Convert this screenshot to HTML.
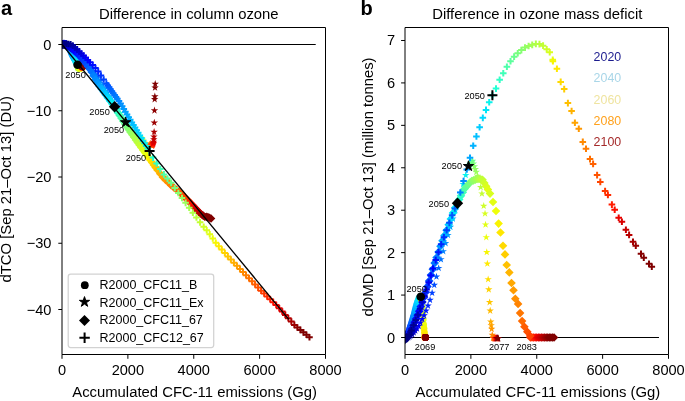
<!DOCTYPE html>
<html><head><meta charset="utf-8"><style>html,body{margin:0;padding:0;background:#fff;}svg{display:block;will-change:transform;}</style></head><body>
<svg width="685" height="401" viewBox="0 0 685 401" font-family="Liberation Sans, sans-serif">
<rect width="685" height="401" fill="#fff"/>
<text x="1" y="15.2" font-size="20" font-weight="bold">a</text>
<text x="360.6" y="15.2" font-size="20" font-weight="bold">b</text>
<text x="188.8" y="19.2" font-size="14.85" text-anchor="middle">Difference in column ozone</text>
<text x="537.3" y="19.2" font-size="14.85" text-anchor="middle">Difference in ozone mass deficit</text>
<g clip-path="url(#ca)">
<line x1="62.00" y1="44.5" x2="315.72" y2="44.5" stroke="#000" stroke-width="1.1"/>
<circle cx="62.00" cy="44.50" r="3.4" fill="#000080"/>
<circle cx="62.03" cy="44.48" r="3.4" fill="#000080"/>
<circle cx="62.10" cy="44.42" r="3.4" fill="#000080"/>
<circle cx="62.21" cy="44.33" r="3.4" fill="#000080"/>
<circle cx="62.35" cy="44.22" r="3.4" fill="#00008e"/>
<circle cx="62.52" cy="44.08" r="3.4" fill="#00009c"/>
<circle cx="62.73" cy="43.92" r="3.4" fill="#0000ab"/>
<circle cx="62.96" cy="43.73" r="3.4" fill="#0000b9"/>
<circle cx="63.22" cy="43.52" r="3.4" fill="#0000c8"/>
<circle cx="63.51" cy="43.29" r="3.4" fill="#0000d6"/>
<circle cx="63.82" cy="43.26" r="3.4" fill="#0000e5"/>
<circle cx="64.17" cy="43.39" r="3.4" fill="#0000f3"/>
<circle cx="64.53" cy="43.54" r="3.4" fill="#0000ff"/>
<circle cx="64.93" cy="43.70" r="3.4" fill="#0000ff"/>
<circle cx="65.34" cy="43.87" r="3.4" fill="#000dff"/>
<circle cx="65.78" cy="44.05" r="3.4" fill="#0019ff"/>
<circle cx="66.25" cy="44.24" r="3.4" fill="#0026ff"/>
<circle cx="66.74" cy="44.44" r="3.4" fill="#0033ff"/>
<circle cx="67.25" cy="45.03" r="3.4" fill="#0040ff"/>
<circle cx="67.79" cy="45.90" r="3.4" fill="#004dff"/>
<circle cx="68.35" cy="46.80" r="3.4" fill="#0059ff"/>
<circle cx="68.94" cy="47.75" r="3.4" fill="#0066ff"/>
<circle cx="69.54" cy="48.72" r="3.4" fill="#0073ff"/>
<circle cx="70.17" cy="49.74" r="3.4" fill="#0080ff"/>
<circle cx="70.82" cy="51.38" r="3.4" fill="#008cff"/>
<circle cx="71.49" cy="53.14" r="3.4" fill="#0099ff"/>
<circle cx="72.19" cy="54.72" r="3.4" fill="#00a6ff"/>
<circle cx="72.90" cy="56.04" r="3.4" fill="#00b2ff"/>
<circle cx="73.64" cy="57.39" r="3.4" fill="#00bfff"/>
<circle cx="74.40" cy="58.79" r="3.4" fill="#00ccff"/>
<circle cx="75.18" cy="60.34" r="3.4" fill="#00d9ff"/>
<circle cx="75.98" cy="61.96" r="3.4" fill="#00e5f7"/>
<circle cx="76.80" cy="63.62" r="3.4" fill="#0af2ec"/>
<circle cx="77.65" cy="65.32" r="3.4" fill="#15ffe2"/>
<circle cx="77.71" cy="65.00" r="3.4" fill="#23ffd4"/>
<circle cx="77.77" cy="65.30" r="3.4" fill="#31ffc6"/>
<circle cx="77.83" cy="65.60" r="3.4" fill="#3fffb8"/>
<circle cx="77.89" cy="65.90" r="3.4" fill="#4dffaa"/>
<circle cx="77.95" cy="66.20" r="3.4" fill="#5bff9c"/>
<circle cx="78.02" cy="66.50" r="3.4" fill="#69ff8d"/>
<circle cx="78.08" cy="66.79" r="3.4" fill="#78ff7f"/>
<circle cx="78.14" cy="67.09" r="3.4" fill="#86ff71"/>
<circle cx="78.22" cy="67.39" r="3.4" fill="#90ff67"/>
<circle cx="78.30" cy="67.69" r="3.4" fill="#9aff5d"/>
<circle cx="78.39" cy="67.80" r="3.4" fill="#a5ff52"/>
<circle cx="78.47" cy="67.91" r="3.4" fill="#afff48"/>
<circle cx="78.55" cy="68.02" r="3.4" fill="#b9ff3e"/>
<circle cx="78.63" cy="68.13" r="3.4" fill="#c3ff33"/>
<circle cx="79.21" cy="68.24" r="3.4" fill="#ceff29"/>
<circle cx="79.79" cy="68.35" r="3.4" fill="#d8ff1f"/>
<circle cx="80.20" cy="68.22" r="3.4" fill="#e2ff15"/>
<circle cx="80.61" cy="68.09" r="3.4" fill="#ecff0a"/>
<circle cx="81.02" cy="67.95" r="3.4" fill="#f7f600"/>
<circle cx="81.43" cy="67.82" r="3.4" fill="#ffea00"/>
<circle cx="81.76" cy="67.69" r="3.4" fill="#ffde00"/>
<circle cx="82.09" cy="67.61" r="3.4" fill="#ffd200"/>
<circle cx="82.11" cy="67.54" r="3.4" fill="#ffc600"/>
<circle cx="82.13" cy="67.47" r="3.4" fill="#ffbb00"/>
<circle cx="82.14" cy="67.39" r="3.4" fill="#ffaf00"/>
<circle cx="82.16" cy="67.32" r="3.4" fill="#ffa300"/>
<circle cx="82.18" cy="67.25" r="3.4" fill="#ff9700"/>
<circle cx="82.20" cy="67.17" r="3.4" fill="#ff8b00"/>
<circle cx="82.22" cy="67.10" r="3.4" fill="#ff8000"/>
<circle cx="82.23" cy="67.03" r="3.4" fill="#ff7400"/>
<circle cx="82.25" cy="66.99" r="3.4" fill="#ff6800"/>
<circle cx="82.27" cy="66.96" r="3.4" fill="#ff5c00"/>
<circle cx="82.29" cy="66.93" r="3.4" fill="#ff5000"/>
<circle cx="82.30" cy="66.89" r="3.4" fill="#ff4400"/>
<circle cx="82.32" cy="66.86" r="3.4" fill="#ff3900"/>
<circle cx="82.34" cy="66.83" r="3.4" fill="#ff2d00"/>
<circle cx="82.36" cy="66.79" r="3.4" fill="#ff2100"/>
<circle cx="82.37" cy="66.76" r="3.4" fill="#ff1500"/>
<circle cx="82.39" cy="66.73" r="3.4" fill="#f30900"/>
<circle cx="82.41" cy="66.69" r="3.4" fill="#e50000"/>
<circle cx="82.43" cy="66.66" r="3.4" fill="#d60000"/>
<circle cx="82.44" cy="66.63" r="3.4" fill="#c80000"/>
<circle cx="82.46" cy="66.59" r="3.4" fill="#b90000"/>
<circle cx="82.48" cy="66.56" r="3.4" fill="#ab0000"/>
<circle cx="82.50" cy="66.53" r="3.4" fill="#9c0000"/>
<circle cx="82.52" cy="66.50" r="3.4" fill="#8e0000"/>
<circle cx="82.53" cy="66.46" r="3.4" fill="#800000"/>
<circle cx="82.55" cy="66.43" r="3.4" fill="#800000"/>
<circle cx="82.57" cy="66.40" r="3.4" fill="#800000"/>
<circle cx="82.59" cy="66.36" r="3.4" fill="#800000"/>
<path d="M62.00,40.60 L61.12,43.29 L58.29,43.29 L60.58,44.96 L59.71,47.66 L62.00,45.99 L64.29,47.66 L63.42,44.96 L65.71,43.29 L62.88,43.29Z" fill="#000080"/>
<path d="M62.47,40.67 L61.60,43.36 L58.77,43.36 L61.06,45.03 L60.18,47.72 L62.47,46.06 L64.77,47.72 L63.89,45.03 L66.18,43.36 L63.35,43.36Z" fill="#000080"/>
<path d="M63.25,40.77 L62.38,43.47 L59.54,43.47 L61.84,45.13 L60.96,47.83 L63.25,46.16 L65.54,47.83 L64.67,45.13 L66.96,43.47 L64.13,43.47Z" fill="#000080"/>
<path d="M64.21,40.91 L63.33,43.60 L60.50,43.60 L62.79,45.27 L61.92,47.96 L64.21,46.30 L66.50,47.96 L65.63,45.27 L67.92,43.60 L65.08,43.60Z" fill="#000080"/>
<path d="M65.30,41.06 L64.43,43.76 L61.60,43.76 L63.89,45.42 L63.01,48.12 L65.30,46.45 L67.60,48.12 L66.72,45.42 L69.01,43.76 L66.18,43.76Z" fill="#00008e"/>
<path d="M66.52,41.23 L65.64,43.92 L62.81,43.92 L65.10,45.59 L64.22,48.28 L66.52,46.62 L68.81,48.28 L67.93,45.59 L70.23,43.92 L67.39,43.92Z" fill="#00009c"/>
<path d="M67.83,41.77 L66.95,44.46 L64.12,44.46 L66.41,46.13 L65.54,48.82 L67.83,47.16 L70.12,48.82 L69.25,46.13 L71.54,44.46 L68.70,44.46Z" fill="#0000ab"/>
<path d="M69.23,42.53 L68.36,45.22 L65.52,45.22 L67.82,46.89 L66.94,49.59 L69.23,47.92 L71.53,49.59 L70.65,46.89 L72.94,45.22 L70.11,45.22Z" fill="#0000b9"/>
<path d="M70.72,43.34 L69.84,46.03 L67.01,46.03 L69.30,47.70 L68.43,50.39 L70.72,48.73 L73.01,50.39 L72.14,47.70 L74.43,46.03 L71.60,46.03Z" fill="#0000c8"/>
<path d="M72.28,44.35 L71.41,47.05 L68.57,47.05 L70.87,48.71 L69.99,51.41 L72.28,49.74 L74.58,51.41 L73.70,48.71 L75.99,47.05 L73.16,47.05Z" fill="#0000d6"/>
<path d="M73.92,45.92 L73.04,48.62 L70.21,48.62 L72.50,50.28 L71.63,52.98 L73.92,51.31 L76.21,52.98 L75.33,50.28 L77.63,48.62 L74.79,48.62Z" fill="#0000e5"/>
<path d="M75.62,47.55 L74.74,50.25 L71.91,50.25 L74.20,51.92 L73.33,54.61 L75.62,52.94 L77.91,54.61 L77.04,51.92 L79.33,50.25 L76.49,50.25Z" fill="#0000f3"/>
<path d="M77.38,49.25 L76.51,51.94 L73.67,51.94 L75.97,53.61 L75.09,56.31 L77.38,54.64 L79.68,56.31 L78.80,53.61 L81.09,51.94 L78.26,51.94Z" fill="#0000ff"/>
<path d="M79.21,51.00 L78.33,53.70 L75.50,53.70 L77.79,55.36 L76.92,58.06 L79.21,56.39 L81.50,58.06 L80.62,55.36 L82.92,53.70 L80.08,53.70Z" fill="#0000ff"/>
<path d="M81.09,52.81 L80.21,55.50 L77.38,55.50 L79.67,57.17 L78.80,59.86 L81.09,58.20 L83.38,59.86 L82.51,57.17 L84.80,55.50 L81.96,55.50Z" fill="#000dff"/>
<path d="M83.02,54.67 L82.15,57.36 L79.32,57.36 L81.61,59.03 L80.73,61.72 L83.02,60.06 L85.32,61.72 L84.44,59.03 L86.73,57.36 L83.90,57.36Z" fill="#0019ff"/>
<path d="M85.01,56.58 L84.14,59.27 L81.30,59.27 L83.60,60.94 L82.72,63.63 L85.01,61.97 L87.31,63.63 L86.43,60.94 L88.72,59.27 L85.89,59.27Z" fill="#0026ff"/>
<path d="M87.05,59.24 L86.18,61.93 L83.34,61.93 L85.63,63.60 L84.76,66.29 L87.05,64.63 L89.34,66.29 L88.47,63.60 L90.76,61.93 L87.93,61.93Z" fill="#0033ff"/>
<path d="M89.14,61.98 L88.26,64.67 L85.43,64.67 L87.72,66.34 L86.85,69.03 L89.14,67.37 L91.43,69.03 L90.56,66.34 L92.85,64.67 L90.01,64.67Z" fill="#0040ff"/>
<path d="M91.27,64.78 L90.40,67.47 L87.56,67.47 L89.86,69.14 L88.98,71.84 L91.27,70.17 L93.56,71.84 L92.69,69.14 L94.98,67.47 L92.15,67.47Z" fill="#004dff"/>
<path d="M93.45,67.64 L92.58,70.34 L89.74,70.34 L92.03,72.00 L91.16,74.70 L93.45,73.03 L95.74,74.70 L94.87,72.00 L97.16,70.34 L94.33,70.34Z" fill="#0059ff"/>
<path d="M95.68,70.56 L94.80,73.25 L91.97,73.25 L94.26,74.92 L93.38,77.61 L95.68,75.95 L97.97,77.61 L97.09,74.92 L99.38,73.25 L96.55,73.25Z" fill="#0066ff"/>
<path d="M97.94,73.53 L97.07,76.23 L94.23,76.23 L96.52,77.89 L95.65,80.59 L97.94,78.92 L100.23,80.59 L99.36,77.89 L101.65,76.23 L98.82,76.23Z" fill="#0073ff"/>
<path d="M100.25,77.17 L99.37,79.87 L96.54,79.87 L98.83,81.53 L97.96,84.23 L100.25,82.56 L102.54,84.23 L101.67,81.53 L103.96,79.87 L101.12,79.87Z" fill="#0080ff"/>
<path d="M102.60,80.96 L101.72,83.66 L98.89,83.66 L101.18,85.32 L100.30,88.02 L102.60,86.35 L104.89,88.02 L104.01,85.32 L106.31,83.66 L103.47,83.66Z" fill="#008cff"/>
<path d="M104.99,84.82 L104.11,87.51 L101.28,87.51 L103.57,89.18 L102.69,91.87 L104.99,90.21 L107.28,91.87 L106.40,89.18 L108.69,87.51 L105.86,87.51Z" fill="#0099ff"/>
<path d="M107.41,88.73 L106.54,91.43 L103.70,91.43 L105.99,93.09 L105.12,95.79 L107.41,94.12 L109.70,95.79 L108.83,93.09 L111.12,91.43 L108.29,91.43Z" fill="#00a6ff"/>
<path d="M109.88,92.71 L109.00,95.41 L106.17,95.41 L108.46,97.07 L107.58,99.77 L109.88,98.10 L112.17,99.77 L111.29,97.07 L113.58,95.41 L110.75,95.41Z" fill="#00b2ff"/>
<path d="M112.38,96.79 L111.50,99.49 L108.67,99.49 L110.96,101.15 L110.08,103.85 L112.38,102.18 L114.67,103.85 L113.79,101.15 L116.09,99.49 L113.25,99.49Z" fill="#00bfff"/>
<path d="M114.91,101.01 L114.04,103.70 L111.20,103.70 L113.50,105.37 L112.62,108.06 L114.91,106.40 L117.20,108.06 L116.33,105.37 L118.62,103.70 L115.79,103.70Z" fill="#00ccff"/>
<path d="M117.48,105.28 L116.61,107.98 L113.78,107.98 L116.07,109.64 L115.19,112.34 L117.48,110.67 L119.78,112.34 L118.90,109.64 L121.19,107.98 L118.36,107.98Z" fill="#00d9ff"/>
<path d="M120.09,109.61 L119.22,112.31 L116.38,112.31 L118.67,113.97 L117.80,116.67 L120.09,115.00 L122.38,116.67 L121.51,113.97 L123.80,112.31 L120.97,112.31Z" fill="#00e5f7"/>
<path d="M122.73,114.00 L121.86,116.70 L119.02,116.70 L121.31,118.36 L120.44,121.06 L122.73,119.39 L125.02,121.06 L124.15,118.36 L126.44,116.70 L123.61,116.70Z" fill="#0af2ec"/>
<path d="M125.40,118.44 L124.53,121.14 L121.70,121.14 L123.99,122.80 L123.11,125.50 L125.40,123.83 L127.70,125.50 L126.82,122.80 L129.11,121.14 L126.28,121.14Z" fill="#15ffe2"/>
<path d="M126.09,119.16 L125.22,121.86 L122.38,121.86 L124.67,123.52 L123.80,126.22 L126.09,124.55 L128.38,126.22 L127.51,123.52 L129.80,121.86 L126.97,121.86Z" fill="#23ffd4"/>
<path d="M126.78,120.21 L125.90,122.91 L123.07,122.91 L125.36,124.57 L124.48,127.27 L126.78,125.60 L129.07,127.27 L128.19,124.57 L130.49,122.91 L127.65,122.91Z" fill="#31ffc6"/>
<path d="M127.46,121.26 L126.59,123.95 L123.75,123.95 L126.05,125.62 L125.17,128.31 L127.46,126.65 L129.76,128.31 L128.88,125.62 L131.17,123.95 L128.34,123.95Z" fill="#3fffb8"/>
<path d="M128.15,122.31 L127.27,125.00 L124.44,125.00 L126.73,126.67 L125.86,129.36 L128.15,127.70 L130.44,129.36 L129.57,126.67 L131.86,125.00 L129.03,125.00Z" fill="#4dffaa"/>
<path d="M128.84,123.36 L127.96,126.05 L125.13,126.05 L127.42,127.72 L126.54,130.41 L128.84,128.75 L131.13,130.41 L130.25,127.72 L132.54,126.05 L129.71,126.05Z" fill="#5bff9c"/>
<path d="M129.52,124.41 L128.65,127.10 L125.81,127.10 L128.11,128.77 L127.23,131.46 L129.52,129.80 L131.81,131.46 L130.94,128.77 L133.23,127.10 L130.40,127.10Z" fill="#69ff8d"/>
<path d="M130.46,125.46 L129.58,128.15 L126.75,128.15 L129.04,129.82 L128.17,132.51 L130.46,130.84 L132.75,132.51 L131.88,129.82 L134.17,128.15 L131.34,128.15Z" fill="#78ff7f"/>
<path d="M131.40,126.50 L130.52,129.20 L127.69,129.20 L129.98,130.86 L129.11,133.56 L131.40,131.89 L133.69,133.56 L132.82,130.86 L135.11,129.20 L132.27,129.20Z" fill="#86ff71"/>
<path d="M132.34,127.55 L131.46,130.25 L128.63,130.25 L130.92,131.91 L130.05,134.61 L132.34,132.94 L134.63,134.61 L133.75,131.91 L136.05,130.25 L133.21,130.25Z" fill="#90ff67"/>
<path d="M133.28,128.60 L132.40,131.30 L129.57,131.30 L131.86,132.96 L130.98,135.66 L133.28,133.99 L135.57,135.66 L134.69,132.96 L136.99,131.30 L134.15,131.30Z" fill="#9aff5d"/>
<path d="M134.53,129.65 L133.65,132.35 L130.82,132.35 L133.11,134.01 L132.24,136.71 L134.53,135.04 L136.82,136.71 L135.95,134.01 L138.24,132.35 L135.40,132.35Z" fill="#a5ff52"/>
<path d="M135.78,130.70 L134.90,133.39 L132.07,133.39 L134.36,135.06 L133.49,137.76 L135.78,136.09 L138.07,137.76 L137.20,135.06 L139.49,133.39 L136.66,133.39Z" fill="#afff48"/>
<path d="M137.69,131.76 L136.81,134.45 L133.98,134.45 L136.27,136.12 L135.40,138.82 L137.69,137.15 L139.98,138.82 L139.11,136.12 L141.40,134.45 L138.57,134.45Z" fill="#b9ff3e"/>
<path d="M138.91,132.82 L138.03,135.51 L135.20,135.51 L137.49,137.18 L136.62,139.88 L138.91,138.21 L141.20,139.88 L140.33,137.18 L142.62,135.51 L139.78,135.51Z" fill="#c3ff33"/>
<path d="M140.72,133.88 L139.85,136.57 L137.01,136.57 L139.30,138.24 L138.43,140.94 L140.72,139.27 L143.01,140.94 L142.14,138.24 L144.43,136.57 L141.60,136.57Z" fill="#ceff29"/>
<path d="M142.04,134.94 L141.16,137.63 L138.33,137.63 L140.62,139.30 L139.75,142.00 L142.04,140.33 L144.33,142.00 L143.45,139.30 L145.75,137.63 L142.91,137.63Z" fill="#d8ff1f"/>
<path d="M142.57,136.00 L141.69,138.69 L138.86,138.69 L141.15,140.36 L140.27,143.06 L142.57,141.39 L144.86,143.06 L143.98,140.36 L146.27,138.69 L143.44,138.69Z" fill="#e2ff15"/>
<path d="M143.26,137.06 L142.38,139.75 L139.55,139.75 L141.84,141.42 L140.96,144.12 L143.26,142.45 L145.55,144.12 L144.67,141.42 L146.97,139.75 L144.13,139.75Z" fill="#ecff0a"/>
<path d="M143.75,138.12 L142.88,140.81 L140.04,140.81 L142.33,142.48 L141.46,145.18 L143.75,143.51 L146.04,145.18 L145.17,142.48 L147.46,140.81 L144.63,140.81Z" fill="#f7f600"/>
<path d="M144.34,139.18 L143.47,141.87 L140.63,141.87 L142.93,143.54 L142.05,146.24 L144.34,144.57 L146.64,146.24 L145.76,143.54 L148.05,141.87 L145.22,141.87Z" fill="#ffea00"/>
<path d="M145.17,140.24 L144.29,142.93 L141.46,142.93 L143.75,144.60 L142.87,147.30 L145.17,145.63 L147.46,147.30 L146.58,144.60 L148.88,142.93 L146.04,142.93Z" fill="#ffde00"/>
<path d="M145.76,141.30 L144.88,143.99 L142.05,143.99 L144.34,145.66 L143.47,148.36 L145.76,146.69 L148.05,148.36 L147.18,145.66 L149.47,143.99 L146.64,143.99Z" fill="#ffd200"/>
<path d="M146.65,141.63 L145.77,144.33 L142.94,144.33 L145.23,145.99 L144.36,148.69 L146.65,147.02 L148.94,148.69 L148.07,145.99 L150.36,144.33 L147.52,144.33Z" fill="#ffc600"/>
<path d="M147.18,141.96 L146.30,144.66 L143.47,144.66 L145.76,146.32 L144.88,149.02 L147.18,147.35 L149.47,149.02 L148.59,146.32 L150.89,144.66 L148.05,144.66Z" fill="#ffbb00"/>
<path d="M147.77,142.29 L146.89,144.99 L144.06,144.99 L146.35,146.65 L145.48,149.35 L147.77,147.68 L150.06,149.35 L149.19,146.65 L151.48,144.99 L148.64,144.99Z" fill="#ffaf00"/>
<path d="M148.21,142.62 L147.34,145.32 L144.50,145.32 L146.80,146.99 L145.92,149.68 L148.21,148.01 L150.51,149.68 L149.63,146.99 L151.92,145.32 L149.09,145.32Z" fill="#ffa300"/>
<path d="M148.66,141.74 L147.78,144.44 L144.95,144.44 L147.24,146.10 L146.37,148.80 L148.66,147.13 L150.95,148.80 L150.08,146.10 L152.37,144.44 L149.53,144.44Z" fill="#ff9700"/>
<path d="M149.28,140.86 L148.41,143.55 L145.58,143.55 L147.87,145.22 L146.99,147.91 L149.28,146.25 L151.58,147.91 L150.70,145.22 L152.99,143.55 L150.16,143.55Z" fill="#ff8b00"/>
<path d="M150.11,139.97 L149.23,142.67 L146.40,142.67 L148.69,144.34 L147.82,147.03 L150.11,145.36 L152.40,147.03 L151.52,144.34 L153.82,142.67 L150.98,142.67Z" fill="#ff8000"/>
<path d="M150.52,140.47 L149.64,143.17 L146.81,143.17 L149.10,144.83 L148.23,147.53 L150.52,145.86 L152.81,147.53 L151.94,144.83 L154.23,143.17 L151.40,143.17Z" fill="#ff7400"/>
<path d="M150.93,140.97 L150.06,143.66 L147.22,143.66 L149.51,145.33 L148.64,148.02 L150.93,146.36 L153.22,148.02 L152.35,145.33 L154.64,143.66 L151.81,143.66Z" fill="#ff6800"/>
<path d="M151.34,141.47 L150.47,144.16 L147.63,144.16 L149.93,145.83 L149.05,148.52 L151.34,146.86 L153.64,148.52 L152.76,145.83 L155.05,144.16 L152.22,144.16Z" fill="#ff5c00"/>
<path d="M151.75,141.96 L150.88,144.66 L148.05,144.66 L150.34,146.32 L149.46,149.02 L151.75,147.35 L154.05,149.02 L153.17,146.32 L155.46,144.66 L152.63,144.66Z" fill="#ff5000"/>
<path d="M151.98,141.63 L151.11,144.33 L148.27,144.33 L150.56,145.99 L149.69,148.69 L151.98,147.02 L154.27,148.69 L153.40,145.99 L155.69,144.33 L152.86,144.33Z" fill="#ff4400"/>
<path d="M152.21,141.30 L151.33,143.99 L148.50,143.99 L150.79,145.66 L149.92,148.36 L152.21,146.69 L154.50,148.36 L153.62,145.66 L155.92,143.99 L153.08,143.99Z" fill="#ff3900"/>
<path d="M152.43,140.97 L151.56,143.66 L148.72,143.66 L151.02,145.33 L150.14,148.02 L152.43,146.36 L154.73,148.02 L153.85,145.33 L156.14,143.66 L153.31,143.66Z" fill="#ff2d00"/>
<path d="M152.66,140.64 L151.78,143.33 L148.95,143.33 L151.24,145.00 L150.37,147.69 L152.66,146.03 L154.95,147.69 L154.08,145.00 L156.37,143.33 L153.54,143.33Z" fill="#ff2100"/>
<path d="M152.89,140.20 L152.01,142.89 L149.18,142.89 L151.47,144.56 L150.59,147.25 L152.89,145.59 L155.18,147.25 L154.30,144.56 L156.60,142.89 L153.76,142.89Z" fill="#ff1500"/>
<path d="M153.11,139.75 L152.24,142.45 L149.40,142.45 L151.70,144.11 L150.82,146.81 L153.11,145.14 L155.41,146.81 L154.53,144.11 L156.82,142.45 L153.99,142.45Z" fill="#f30900"/>
<path d="M153.34,139.31 L152.46,142.01 L149.63,142.01 L151.92,143.67 L151.05,146.37 L153.34,144.70 L155.63,146.37 L154.76,143.67 L157.05,142.01 L154.22,142.01Z" fill="#e50000"/>
<path d="M153.57,138.12 L152.69,140.81 L149.86,140.81 L152.15,142.48 L151.27,145.18 L153.57,143.51 L155.86,145.18 L154.98,142.48 L157.28,140.81 L154.44,140.81Z" fill="#d60000"/>
<path d="M153.75,135.60 L152.87,138.30 L150.04,138.30 L152.33,139.96 L151.46,142.66 L153.75,140.99 L156.04,142.66 L155.17,139.96 L157.46,138.30 L154.62,138.30Z" fill="#c80000"/>
<path d="M153.93,132.82 L153.06,135.51 L150.22,135.51 L152.52,137.18 L151.64,139.88 L153.93,138.21 L156.22,139.88 L155.35,137.18 L157.64,135.51 L154.81,135.51Z" fill="#b90000"/>
<path d="M154.12,128.05 L153.24,130.74 L150.41,130.74 L152.70,132.41 L151.82,135.11 L154.12,133.44 L156.41,135.11 L155.53,132.41 L157.82,130.74 L154.99,130.74Z" fill="#ab0000"/>
<path d="M154.30,118.78 L153.42,121.47 L150.59,121.47 L152.88,123.14 L152.01,125.83 L154.30,124.16 L156.59,125.83 L155.71,123.14 L158.01,121.47 L155.17,121.47Z" fill="#9c0000"/>
<path d="M154.48,106.58 L153.61,109.28 L150.77,109.28 L153.06,110.95 L152.19,113.64 L154.48,111.97 L156.77,113.64 L155.90,110.95 L158.19,109.28 L155.36,109.28Z" fill="#8e0000"/>
<path d="M154.66,95.39 L153.79,98.08 L150.96,98.08 L153.25,99.75 L152.37,102.44 L154.66,100.78 L156.96,102.44 L156.08,99.75 L158.37,98.08 L155.54,98.08Z" fill="#800000"/>
<path d="M154.85,92.61 L153.97,95.30 L151.14,95.30 L153.43,96.97 L152.55,99.66 L154.85,98.00 L157.14,99.66 L156.26,96.97 L158.56,95.30 L155.72,95.30Z" fill="#800000"/>
<path d="M155.03,83.79 L154.15,86.49 L151.32,86.49 L153.61,88.16 L152.74,90.85 L155.03,89.18 L157.32,90.85 L156.45,88.16 L158.74,86.49 L155.91,86.49Z" fill="#800000"/>
<path d="M155.21,80.08 L154.34,82.78 L151.50,82.78 L153.80,84.45 L152.92,87.14 L155.21,85.47 L157.51,87.14 L156.63,84.45 L158.92,82.78 L156.09,82.78Z" fill="#800000"/>
<path d="M62.00,40.20 L66.30,44.50 L62.00,48.80 L57.70,44.50Z" fill="#000080"/>
<path d="M62.39,40.25 L66.69,44.55 L62.39,48.85 L58.09,44.55Z" fill="#000080"/>
<path d="M63.03,40.34 L67.33,44.64 L63.03,48.94 L58.73,44.64Z" fill="#000080"/>
<path d="M63.82,40.45 L68.12,44.75 L63.82,49.05 L59.52,44.75Z" fill="#000080"/>
<path d="M64.73,40.58 L69.03,44.88 L64.73,49.18 L60.43,44.88Z" fill="#00008e"/>
<path d="M65.73,40.72 L70.03,45.02 L65.73,49.32 L61.43,45.02Z" fill="#00009c"/>
<path d="M66.81,40.87 L71.11,45.17 L66.81,49.47 L62.51,45.17Z" fill="#0000ab"/>
<path d="M67.97,41.59 L72.27,45.89 L67.97,50.19 L63.67,45.89Z" fill="#0000b9"/>
<path d="M69.20,42.42 L73.50,46.72 L69.20,51.02 L64.90,46.72Z" fill="#0000c8"/>
<path d="M70.49,43.29 L74.79,47.59 L70.49,51.89 L66.19,47.59Z" fill="#0000d6"/>
<path d="M71.84,44.20 L76.14,48.50 L71.84,52.80 L67.54,48.50Z" fill="#0000e5"/>
<path d="M73.25,45.47 L77.55,49.77 L73.25,54.07 L68.95,49.77Z" fill="#0000f3"/>
<path d="M74.71,46.80 L79.01,51.10 L74.71,55.40 L70.41,51.10Z" fill="#0000ff"/>
<path d="M76.21,48.17 L80.51,52.47 L76.21,56.77 L71.91,52.47Z" fill="#0000ff"/>
<path d="M77.77,49.58 L82.07,53.88 L77.77,58.18 L73.47,53.88Z" fill="#000dff"/>
<path d="M79.37,51.31 L83.67,55.61 L79.37,59.91 L75.07,55.61Z" fill="#0019ff"/>
<path d="M81.01,53.30 L85.31,57.60 L81.01,61.90 L76.71,57.60Z" fill="#0026ff"/>
<path d="M82.69,55.34 L86.99,59.64 L82.69,63.94 L78.39,59.64Z" fill="#0033ff"/>
<path d="M84.42,57.43 L88.72,61.73 L84.42,66.03 L80.12,61.73Z" fill="#0040ff"/>
<path d="M86.18,59.57 L90.48,63.87 L86.18,68.17 L81.88,63.87Z" fill="#004dff"/>
<path d="M87.98,62.09 L92.28,66.39 L87.98,70.69 L83.68,66.39Z" fill="#0059ff"/>
<path d="M89.81,64.81 L94.11,69.11 L89.81,73.41 L85.51,69.11Z" fill="#0066ff"/>
<path d="M91.69,67.60 L95.99,71.90 L91.69,76.20 L87.39,71.90Z" fill="#0073ff"/>
<path d="M93.59,71.45 L97.89,75.75 L93.59,80.05 L89.29,75.75Z" fill="#0080ff"/>
<path d="M95.53,75.24 L99.83,79.54 L95.53,83.84 L91.23,79.54Z" fill="#008cff"/>
<path d="M97.50,78.82 L101.80,83.12 L97.50,87.42 L93.20,83.12Z" fill="#0099ff"/>
<path d="M99.51,81.90 L103.81,86.20 L99.51,90.50 L95.21,86.20Z" fill="#00a6ff"/>
<path d="M101.54,84.71 L105.84,89.01 L101.54,93.31 L97.24,89.01Z" fill="#00b2ff"/>
<path d="M103.61,87.56 L107.91,91.86 L103.61,96.16 L99.31,91.86Z" fill="#00bfff"/>
<path d="M105.70,90.45 L110.00,94.75 L105.70,99.05 L101.40,94.75Z" fill="#00ccff"/>
<path d="M107.83,93.38 L112.13,97.68 L107.83,101.98 L103.53,97.68Z" fill="#00d9ff"/>
<path d="M109.98,96.43 L114.28,100.73 L109.98,105.03 L105.68,100.73Z" fill="#00e5f7"/>
<path d="M112.16,99.54 L116.46,103.84 L112.16,108.14 L107.86,103.84Z" fill="#0af2ec"/>
<path d="M114.37,102.68 L118.67,106.98 L114.37,111.28 L110.07,106.98Z" fill="#15ffe2"/>
<path d="M116.17,105.52 L120.47,109.82 L116.17,114.12 L111.87,109.82Z" fill="#23ffd4"/>
<path d="M117.96,108.36 L122.26,112.66 L117.96,116.96 L113.66,112.66Z" fill="#31ffc6"/>
<path d="M119.76,111.20 L124.06,115.50 L119.76,119.80 L115.46,115.50Z" fill="#3fffb8"/>
<path d="M121.56,114.04 L125.86,118.34 L121.56,122.64 L117.26,118.34Z" fill="#4dffaa"/>
<path d="M123.35,116.87 L127.65,121.17 L123.35,125.47 L119.05,121.17Z" fill="#5bff9c"/>
<path d="M125.15,119.71 L129.45,124.01 L125.15,128.31 L120.85,124.01Z" fill="#69ff8d"/>
<path d="M126.95,122.55 L131.25,126.85 L126.95,131.15 L122.65,126.85Z" fill="#78ff7f"/>
<path d="M128.74,125.27 L133.04,129.57 L128.74,133.87 L124.44,129.57Z" fill="#86ff71"/>
<path d="M130.54,127.85 L134.84,132.15 L130.54,136.45 L126.24,132.15Z" fill="#90ff67"/>
<path d="M132.34,130.43 L136.64,134.73 L132.34,139.03 L128.04,134.73Z" fill="#9aff5d"/>
<path d="M134.13,133.01 L138.43,137.31 L134.13,141.61 L129.83,137.31Z" fill="#a5ff52"/>
<path d="M135.93,135.60 L140.23,139.90 L135.93,144.20 L131.63,139.90Z" fill="#afff48"/>
<path d="M137.72,138.18 L142.02,142.48 L137.72,146.78 L133.42,142.48Z" fill="#b9ff3e"/>
<path d="M139.52,140.76 L143.82,145.06 L139.52,149.36 L135.22,145.06Z" fill="#c3ff33"/>
<path d="M141.32,143.26 L145.62,147.56 L141.32,151.86 L137.02,147.56Z" fill="#ceff29"/>
<path d="M143.11,145.76 L147.41,150.06 L143.11,154.36 L138.81,150.06Z" fill="#d8ff1f"/>
<path d="M144.91,148.26 L149.21,152.56 L144.91,156.86 L140.61,152.56Z" fill="#e2ff15"/>
<path d="M146.71,150.75 L151.01,155.05 L146.71,159.35 L142.41,155.05Z" fill="#ecff0a"/>
<path d="M148.50,153.25 L152.80,157.55 L148.50,161.85 L144.20,157.55Z" fill="#f7f600"/>
<path d="M150.30,155.75 L154.60,160.05 L150.30,164.35 L146.00,160.05Z" fill="#ffea00"/>
<path d="M152.10,158.25 L156.40,162.55 L152.10,166.85 L147.80,162.55Z" fill="#ffde00"/>
<path d="M153.89,160.74 L158.19,165.04 L153.89,169.34 L149.59,165.04Z" fill="#ffd200"/>
<path d="M155.69,163.24 L159.99,167.54 L155.69,171.84 L151.39,167.54Z" fill="#ffc600"/>
<path d="M157.49,165.74 L161.79,170.04 L157.49,174.34 L153.19,170.04Z" fill="#ffbb00"/>
<path d="M160.21,169.52 L164.51,173.82 L160.21,178.12 L155.91,173.82Z" fill="#ffaf00"/>
<path d="M162.93,172.91 L167.23,177.21 L162.93,181.51 L158.63,177.21Z" fill="#ffa300"/>
<path d="M165.65,175.59 L169.95,179.89 L165.65,184.19 L161.35,179.89Z" fill="#ff9700"/>
<path d="M168.37,178.27 L172.67,182.57 L168.37,186.87 L164.07,182.57Z" fill="#ff8b00"/>
<path d="M171.09,180.89 L175.39,185.19 L171.09,189.49 L166.79,185.19Z" fill="#ff8000"/>
<path d="M173.82,183.19 L178.12,187.49 L173.82,191.79 L169.52,187.49Z" fill="#ff7400"/>
<path d="M176.54,185.48 L180.84,189.78 L176.54,194.08 L172.24,189.78Z" fill="#ff6800"/>
<path d="M179.26,187.78 L183.56,192.08 L179.26,196.38 L174.96,192.08Z" fill="#ff5c00"/>
<path d="M181.98,190.24 L186.28,194.54 L181.98,198.84 L177.68,194.54Z" fill="#ff5000"/>
<path d="M184.70,192.86 L189.00,197.16 L184.70,201.46 L180.40,197.16Z" fill="#ff4400"/>
<path d="M187.43,195.50 L191.73,199.80 L187.43,204.10 L183.13,199.80Z" fill="#ff3900"/>
<path d="M189.00,197.17 L193.30,201.47 L189.00,205.77 L184.70,201.47Z" fill="#ff2d00"/>
<path d="M190.57,198.84 L194.87,203.14 L190.57,207.44 L186.27,203.14Z" fill="#ff2100"/>
<path d="M192.15,200.51 L196.45,204.81 L192.15,209.11 L187.85,204.81Z" fill="#ff1500"/>
<path d="M193.72,202.18 L198.02,206.48 L193.72,210.78 L189.42,206.48Z" fill="#f30900"/>
<path d="M195.30,203.85 L199.60,208.15 L195.30,212.45 L191.00,208.15Z" fill="#e50000"/>
<path d="M196.87,205.52 L201.17,209.82 L196.87,214.12 L192.57,209.82Z" fill="#d60000"/>
<path d="M198.45,207.19 L202.75,211.49 L198.45,215.79 L194.15,211.49Z" fill="#c80000"/>
<path d="M200.02,208.86 L204.32,213.16 L200.02,217.46 L195.72,213.16Z" fill="#b90000"/>
<path d="M201.60,210.14 L205.90,214.44 L201.60,218.74 L197.30,214.44Z" fill="#ab0000"/>
<path d="M203.17,211.32 L207.47,215.62 L203.17,219.92 L198.87,215.62Z" fill="#9c0000"/>
<path d="M204.74,212.41 L209.04,216.71 L204.74,221.01 L200.44,216.71Z" fill="#8e0000"/>
<path d="M206.32,212.56 L210.62,216.86 L206.32,221.16 L202.02,216.86Z" fill="#800000"/>
<path d="M207.89,212.82 L212.19,217.12 L207.89,221.42 L203.59,217.12Z" fill="#800000"/>
<path d="M209.47,213.52 L213.77,217.82 L209.47,222.12 L205.17,217.82Z" fill="#800000"/>
<path d="M211.04,214.22 L215.34,218.52 L211.04,222.82 L206.74,218.52Z" fill="#800000"/>
<path d="M58.70,44.50H65.30M62.00,41.20V47.80" stroke="#000080" stroke-width="2.0" fill="none"/>
<path d="M60.85,44.11H67.45M64.15,40.81V47.41" stroke="#000080" stroke-width="2.0" fill="none"/>
<path d="M63.01,43.71H69.61M66.31,40.41V47.01" stroke="#000080" stroke-width="2.0" fill="none"/>
<path d="M65.16,43.97H71.76M68.46,40.67V47.27" stroke="#000080" stroke-width="2.0" fill="none"/>
<path d="M67.31,44.30H73.91M70.61,41.00V47.60" stroke="#00008e" stroke-width="2.0" fill="none"/>
<path d="M69.47,45.54H76.07M72.77,42.24V48.84" stroke="#00009c" stroke-width="2.0" fill="none"/>
<path d="M71.62,47.44H78.22M74.92,44.14V50.74" stroke="#0000ab" stroke-width="2.0" fill="none"/>
<path d="M73.78,49.38H80.38M77.08,46.08V52.68" stroke="#0000b9" stroke-width="2.0" fill="none"/>
<path d="M75.93,51.42H82.53M79.23,48.12V54.72" stroke="#0000c8" stroke-width="2.0" fill="none"/>
<path d="M78.08,53.46H84.68M81.38,50.16V56.76" stroke="#0000d6" stroke-width="2.0" fill="none"/>
<path d="M80.24,55.63H86.84M83.54,52.33V58.93" stroke="#0000e5" stroke-width="2.0" fill="none"/>
<path d="M82.39,57.81H88.99M85.69,54.51V61.11" stroke="#0000f3" stroke-width="2.0" fill="none"/>
<path d="M84.54,60.00H91.14M87.84,56.70V63.30" stroke="#0000ff" stroke-width="2.0" fill="none"/>
<path d="M86.70,62.18H93.30M90.00,58.88V65.48" stroke="#0000ff" stroke-width="2.0" fill="none"/>
<path d="M89.43,65.03H96.03M92.73,61.73V68.33" stroke="#000dff" stroke-width="2.0" fill="none"/>
<path d="M92.16,67.98H98.76M95.46,64.68V71.28" stroke="#0019ff" stroke-width="2.0" fill="none"/>
<path d="M94.90,71.56H101.50M98.20,68.26V74.86" stroke="#0026ff" stroke-width="2.0" fill="none"/>
<path d="M97.63,75.54H104.23M100.93,72.24V78.84" stroke="#0033ff" stroke-width="2.0" fill="none"/>
<path d="M100.37,79.49H106.97M103.67,76.19V82.79" stroke="#0040ff" stroke-width="2.0" fill="none"/>
<path d="M103.10,83.44H109.70M106.40,80.14V86.74" stroke="#004dff" stroke-width="2.0" fill="none"/>
<path d="M104.47,85.41H111.07M107.77,82.11V88.71" stroke="#0053ff" stroke-width="2.0" fill="none"/>
<path d="M105.83,87.37H112.43M109.13,84.07V90.67" stroke="#0059ff" stroke-width="2.0" fill="none"/>
<path d="M107.20,89.34H113.80M110.50,86.04V92.64" stroke="#0060ff" stroke-width="2.0" fill="none"/>
<path d="M108.57,91.31H115.17M111.87,88.01V94.61" stroke="#0066ff" stroke-width="2.0" fill="none"/>
<path d="M109.93,93.21H116.53M113.23,89.91V96.51" stroke="#006cff" stroke-width="2.0" fill="none"/>
<path d="M111.30,95.09H117.90M114.60,91.79V98.39" stroke="#0073ff" stroke-width="2.0" fill="none"/>
<path d="M112.67,96.97H119.27M115.97,93.67V100.27" stroke="#0079ff" stroke-width="2.0" fill="none"/>
<path d="M114.04,98.86H120.64M117.34,95.56V102.16" stroke="#0080ff" stroke-width="2.0" fill="none"/>
<path d="M115.65,101.08H122.25M118.95,97.78V104.38" stroke="#0086ff" stroke-width="2.0" fill="none"/>
<path d="M117.26,103.45H123.86M120.56,100.15V106.75" stroke="#008cff" stroke-width="2.0" fill="none"/>
<path d="M118.88,106.21H125.48M122.18,102.91V109.51" stroke="#0093ff" stroke-width="2.0" fill="none"/>
<path d="M120.49,108.96H127.09M123.79,105.66V112.26" stroke="#0099ff" stroke-width="2.0" fill="none"/>
<path d="M122.10,111.72H128.70M125.40,108.42V115.02" stroke="#009fff" stroke-width="2.0" fill="none"/>
<path d="M123.72,114.47H130.32M127.02,111.17V117.77" stroke="#00a6ff" stroke-width="2.0" fill="none"/>
<path d="M125.32,117.17H131.92M128.62,113.87V120.47" stroke="#00acff" stroke-width="2.0" fill="none"/>
<path d="M126.92,119.78H133.52M130.22,116.48V123.08" stroke="#00b2ff" stroke-width="2.0" fill="none"/>
<path d="M128.52,122.39H135.12M131.82,119.09V125.69" stroke="#00b9ff" stroke-width="2.0" fill="none"/>
<path d="M130.12,125.01H136.72M133.42,121.71V128.31" stroke="#00bfff" stroke-width="2.0" fill="none"/>
<path d="M131.72,127.62H138.32M135.02,124.32V130.92" stroke="#00c6ff" stroke-width="2.0" fill="none"/>
<path d="M133.32,130.23H139.92M136.62,126.93V133.53" stroke="#00ccff" stroke-width="2.0" fill="none"/>
<path d="M134.92,132.85H141.52M138.22,129.55V136.15" stroke="#00d2ff" stroke-width="2.0" fill="none"/>
<path d="M136.52,135.46H143.12M139.82,132.16V138.76" stroke="#00d9ff" stroke-width="2.0" fill="none"/>
<path d="M138.12,138.08H144.72M141.42,134.78V141.38" stroke="#00dffc" stroke-width="2.0" fill="none"/>
<path d="M139.72,140.69H146.32M143.02,137.39V143.99" stroke="#00e5f7" stroke-width="2.0" fill="none"/>
<path d="M141.32,143.30H147.92M144.62,140.00V146.60" stroke="#05ecf2" stroke-width="2.0" fill="none"/>
<path d="M142.92,145.92H149.52M146.22,142.62V149.22" stroke="#0af2ec" stroke-width="2.0" fill="none"/>
<path d="M144.52,148.53H151.12M147.82,145.23V151.83" stroke="#0ff9e7" stroke-width="2.0" fill="none"/>
<path d="M146.12,151.12H152.72M149.42,147.82V154.42" stroke="#15ffe2" stroke-width="2.0" fill="none"/>
<path d="M149.73,157.61H156.33M153.03,154.31V160.91" stroke="#23ffd4" stroke-width="2.0" fill="none"/>
<path d="M153.35,163.53H159.95M156.65,160.23V166.83" stroke="#31ffc6" stroke-width="2.0" fill="none"/>
<path d="M156.97,169.11H163.57M160.27,165.81V172.41" stroke="#3fffb8" stroke-width="2.0" fill="none"/>
<path d="M160.59,174.38H167.19M163.89,171.08V177.68" stroke="#4dffaa" stroke-width="2.0" fill="none"/>
<path d="M164.21,178.62H170.81M167.51,175.32V181.92" stroke="#5bff9c" stroke-width="2.0" fill="none"/>
<path d="M167.83,182.85H174.43M171.13,179.55V186.15" stroke="#69ff8d" stroke-width="2.0" fill="none"/>
<path d="M171.45,187.97H178.05M174.75,184.67V191.27" stroke="#78ff7f" stroke-width="2.0" fill="none"/>
<path d="M175.07,193.05H181.67M178.37,189.75V196.35" stroke="#86ff71" stroke-width="2.0" fill="none"/>
<path d="M178.68,197.96H185.28M181.98,194.66V201.26" stroke="#90ff67" stroke-width="2.0" fill="none"/>
<path d="M182.30,202.87H188.90M185.60,199.57V206.17" stroke="#9aff5d" stroke-width="2.0" fill="none"/>
<path d="M185.92,207.79H192.52M189.22,204.49V211.09" stroke="#a5ff52" stroke-width="2.0" fill="none"/>
<path d="M189.54,212.66H196.14M192.84,209.36V215.96" stroke="#afff48" stroke-width="2.0" fill="none"/>
<path d="M193.16,217.51H199.76M196.46,214.21V220.81" stroke="#b9ff3e" stroke-width="2.0" fill="none"/>
<path d="M196.78,222.37H203.38M200.08,219.07V225.67" stroke="#c3ff33" stroke-width="2.0" fill="none"/>
<path d="M200.40,226.71H207.00M203.70,223.41V230.01" stroke="#ceff29" stroke-width="2.0" fill="none"/>
<path d="M203.42,230.30H210.02M206.72,227.00V233.60" stroke="#d8ff1f" stroke-width="2.0" fill="none"/>
<path d="M206.44,234.31H213.04M209.74,231.01V237.61" stroke="#e2ff15" stroke-width="2.0" fill="none"/>
<path d="M209.46,238.50H216.06M212.76,235.20V241.80" stroke="#ecff0a" stroke-width="2.0" fill="none"/>
<path d="M212.48,242.69H219.08M215.78,239.39V245.99" stroke="#f7f600" stroke-width="2.0" fill="none"/>
<path d="M215.51,246.15H222.11M218.81,242.85V249.45" stroke="#ffea00" stroke-width="2.0" fill="none"/>
<path d="M218.53,249.58H225.13M221.83,246.28V252.88" stroke="#ffde00" stroke-width="2.0" fill="none"/>
<path d="M221.55,253.00H228.15M224.85,249.70V256.30" stroke="#ffd200" stroke-width="2.0" fill="none"/>
<path d="M224.57,256.42H231.17M227.87,253.12V259.72" stroke="#ffc600" stroke-width="2.0" fill="none"/>
<path d="M227.59,259.55H234.19M230.89,256.25V262.85" stroke="#ffbb00" stroke-width="2.0" fill="none"/>
<path d="M230.61,262.66H237.21M233.91,259.36V265.96" stroke="#ffaf00" stroke-width="2.0" fill="none"/>
<path d="M233.64,265.78H240.24M236.94,262.48V269.08" stroke="#ffa300" stroke-width="2.0" fill="none"/>
<path d="M236.66,268.90H243.26M239.96,265.60V272.20" stroke="#ff9700" stroke-width="2.0" fill="none"/>
<path d="M239.68,272.02H246.28M242.98,268.72V275.32" stroke="#ff8b00" stroke-width="2.0" fill="none"/>
<path d="M242.70,275.13H249.30M246.00,271.83V278.43" stroke="#ff8000" stroke-width="2.0" fill="none"/>
<path d="M245.72,278.25H252.32M249.02,274.95V281.55" stroke="#ff7400" stroke-width="2.0" fill="none"/>
<path d="M248.75,281.37H255.35M252.05,278.07V284.67" stroke="#ff6800" stroke-width="2.0" fill="none"/>
<path d="M251.77,284.49H258.37M255.07,281.19V287.79" stroke="#ff5c00" stroke-width="2.0" fill="none"/>
<path d="M254.79,287.60H261.39M258.09,284.30V290.90" stroke="#ff5000" stroke-width="2.0" fill="none"/>
<path d="M257.81,290.63H264.41M261.11,287.33V293.93" stroke="#ff4400" stroke-width="2.0" fill="none"/>
<path d="M260.83,293.51H267.43M264.13,290.21V296.81" stroke="#ff3900" stroke-width="2.0" fill="none"/>
<path d="M263.85,296.40H270.45M267.15,293.10V299.70" stroke="#ff2d00" stroke-width="2.0" fill="none"/>
<path d="M266.88,299.28H273.48M270.18,295.98V302.58" stroke="#ff2100" stroke-width="2.0" fill="none"/>
<path d="M269.90,302.17H276.50M273.20,298.87V305.47" stroke="#ff1500" stroke-width="2.0" fill="none"/>
<path d="M272.92,305.05H279.52M276.22,301.75V308.35" stroke="#f30900" stroke-width="2.0" fill="none"/>
<path d="M275.94,308.21H282.54M279.24,304.91V311.51" stroke="#e50000" stroke-width="2.0" fill="none"/>
<path d="M278.96,311.55H285.56M282.26,308.25V314.85" stroke="#d60000" stroke-width="2.0" fill="none"/>
<path d="M281.99,314.89H288.59M285.29,311.59V318.19" stroke="#c80000" stroke-width="2.0" fill="none"/>
<path d="M285.01,318.22H291.61M288.31,314.92V321.52" stroke="#b90000" stroke-width="2.0" fill="none"/>
<path d="M288.03,321.56H294.63M291.33,318.26V324.86" stroke="#ab0000" stroke-width="2.0" fill="none"/>
<path d="M291.05,324.90H297.65M294.35,321.60V328.20" stroke="#9c0000" stroke-width="2.0" fill="none"/>
<path d="M294.07,327.47H300.67M297.37,324.17V330.77" stroke="#8e0000" stroke-width="2.0" fill="none"/>
<path d="M297.09,329.91H303.69M300.39,326.61V333.21" stroke="#800000" stroke-width="2.0" fill="none"/>
<path d="M300.12,332.35H306.72M303.42,329.05V335.65" stroke="#800000" stroke-width="2.0" fill="none"/>
<path d="M303.14,334.78H309.74M306.44,331.48V338.08" stroke="#800000" stroke-width="2.0" fill="none"/>
<path d="M306.16,337.22H312.76M309.46,333.92V340.52" stroke="#800000" stroke-width="2.0" fill="none"/>
<line x1="62.00" y1="44.50" x2="288.74" y2="319.32" stroke="#000" stroke-width="1.3"/>
</g>
<circle cx="77.60" cy="64.70" r="4.3" fill="#000"/>
<path d="M114.60,101.10 L120.30,106.80 L114.60,112.50 L108.90,106.80Z" fill="#000"/>
<path d="M125.60,117.00 L124.39,120.73 L120.46,120.73 L123.64,123.04 L122.43,126.77 L125.60,124.46 L128.77,126.77 L127.56,123.04 L130.74,120.73 L126.81,120.73Z" fill="#000" stroke="#000" stroke-width="1" stroke-linejoin="miter"/>
<path d="M144.60,150.90H154.60M149.60,145.90V155.90" stroke="#000" stroke-width="2.0" fill="none"/>
<text x="85.8" y="77.8" font-size="9.2" text-anchor="end">2050</text>
<text x="109.8" y="115.0" font-size="9.2" text-anchor="end">2050</text>
<text x="124.2" y="133.3" font-size="9.2" text-anchor="end">2050</text>
<text x="146.2" y="160.6" font-size="9.2" text-anchor="end">2050</text>
<g clip-path="url(#cb)">
<line x1="405.00" y1="337.5" x2="658.98" y2="337.5" stroke="#000" stroke-width="1.1"/>
<circle cx="405.00" cy="338.77" r="3.4" fill="#000080"/>
<circle cx="405.03" cy="338.72" r="3.4" fill="#000080"/>
<circle cx="405.10" cy="338.60" r="3.4" fill="#000080"/>
<circle cx="405.21" cy="338.42" r="3.4" fill="#000080"/>
<circle cx="405.35" cy="338.18" r="3.4" fill="#00008e"/>
<circle cx="405.52" cy="337.88" r="3.4" fill="#00009c"/>
<circle cx="405.73" cy="337.54" r="3.4" fill="#0000ab"/>
<circle cx="405.96" cy="337.14" r="3.4" fill="#0000b9"/>
<circle cx="406.22" cy="336.70" r="3.4" fill="#0000c8"/>
<circle cx="406.51" cy="336.21" r="3.4" fill="#0000d6"/>
<circle cx="406.82" cy="335.67" r="3.4" fill="#0000e5"/>
<circle cx="407.17" cy="335.09" r="3.4" fill="#0000f3"/>
<circle cx="407.53" cy="334.46" r="3.4" fill="#0000ff"/>
<circle cx="407.93" cy="333.80" r="3.4" fill="#0000ff"/>
<circle cx="408.34" cy="333.09" r="3.4" fill="#000dff"/>
<circle cx="408.78" cy="331.79" r="3.4" fill="#0019ff"/>
<circle cx="409.25" cy="330.36" r="3.4" fill="#0026ff"/>
<circle cx="409.74" cy="328.85" r="3.4" fill="#0033ff"/>
<circle cx="410.25" cy="327.26" r="3.4" fill="#0040ff"/>
<circle cx="410.79" cy="325.61" r="3.4" fill="#004dff"/>
<circle cx="411.35" cy="323.79" r="3.4" fill="#0059ff"/>
<circle cx="411.94" cy="321.85" r="3.4" fill="#0066ff"/>
<circle cx="412.54" cy="319.84" r="3.4" fill="#0073ff"/>
<circle cx="413.17" cy="317.75" r="3.4" fill="#0080ff"/>
<circle cx="413.82" cy="315.59" r="3.4" fill="#008cff"/>
<circle cx="414.49" cy="313.01" r="3.4" fill="#0099ff"/>
<circle cx="415.19" cy="310.23" r="3.4" fill="#00a6ff"/>
<circle cx="415.90" cy="307.37" r="3.4" fill="#00b2ff"/>
<circle cx="416.64" cy="304.60" r="3.4" fill="#00bfff"/>
<circle cx="417.40" cy="302.49" r="3.4" fill="#00ccff"/>
<circle cx="418.18" cy="300.32" r="3.4" fill="#00d9ff"/>
<circle cx="418.98" cy="298.09" r="3.4" fill="#00e5f7"/>
<circle cx="419.80" cy="297.42" r="3.4" fill="#0af2ec"/>
<circle cx="420.65" cy="296.77" r="3.4" fill="#15ffe2"/>
<circle cx="420.71" cy="296.93" r="3.4" fill="#23ffd4"/>
<circle cx="420.77" cy="297.09" r="3.4" fill="#31ffc6"/>
<circle cx="420.83" cy="297.24" r="3.4" fill="#3fffb8"/>
<circle cx="420.89" cy="297.40" r="3.4" fill="#4dffaa"/>
<circle cx="420.95" cy="297.56" r="3.4" fill="#5bff9c"/>
<circle cx="421.02" cy="297.72" r="3.4" fill="#69ff8d"/>
<circle cx="421.08" cy="297.88" r="3.4" fill="#78ff7f"/>
<circle cx="421.14" cy="298.04" r="3.4" fill="#86ff71"/>
<circle cx="421.22" cy="298.39" r="3.4" fill="#90ff67"/>
<circle cx="421.30" cy="298.75" r="3.4" fill="#9aff5d"/>
<circle cx="421.39" cy="299.10" r="3.4" fill="#a5ff52"/>
<circle cx="421.47" cy="299.45" r="3.4" fill="#afff48"/>
<circle cx="421.55" cy="299.81" r="3.4" fill="#b9ff3e"/>
<circle cx="421.63" cy="300.16" r="3.4" fill="#c3ff33"/>
<circle cx="422.21" cy="306.95" r="3.4" fill="#ceff29"/>
<circle cx="422.79" cy="314.16" r="3.4" fill="#d8ff1f"/>
<circle cx="423.20" cy="319.47" r="3.4" fill="#e2ff15"/>
<circle cx="423.61" cy="324.77" r="3.4" fill="#ecff0a"/>
<circle cx="424.02" cy="328.59" r="3.4" fill="#f7f600"/>
<circle cx="424.43" cy="332.41" r="3.4" fill="#ffea00"/>
<circle cx="424.76" cy="335.80" r="3.4" fill="#ffde00"/>
<circle cx="425.09" cy="337.50" r="3.4" fill="#ffd200"/>
<circle cx="425.11" cy="337.50" r="3.4" fill="#ffc600"/>
<circle cx="425.13" cy="337.50" r="3.4" fill="#ffbb00"/>
<circle cx="425.14" cy="337.50" r="3.4" fill="#ffaf00"/>
<circle cx="425.16" cy="337.50" r="3.4" fill="#ffa300"/>
<circle cx="425.18" cy="337.50" r="3.4" fill="#ff9700"/>
<circle cx="425.20" cy="337.50" r="3.4" fill="#ff8b00"/>
<circle cx="425.22" cy="337.50" r="3.4" fill="#ff8000"/>
<circle cx="425.23" cy="337.50" r="3.4" fill="#ff7400"/>
<circle cx="425.25" cy="337.50" r="3.4" fill="#ff6800"/>
<circle cx="425.27" cy="337.50" r="3.4" fill="#ff5c00"/>
<circle cx="425.29" cy="337.50" r="3.4" fill="#ff5000"/>
<circle cx="425.30" cy="337.50" r="3.4" fill="#ff4400"/>
<circle cx="425.32" cy="337.50" r="3.4" fill="#ff3900"/>
<circle cx="425.34" cy="337.50" r="3.4" fill="#ff2d00"/>
<circle cx="425.36" cy="337.50" r="3.4" fill="#ff2100"/>
<circle cx="425.37" cy="337.50" r="3.4" fill="#ff1500"/>
<circle cx="425.39" cy="337.50" r="3.4" fill="#f30900"/>
<circle cx="425.41" cy="337.50" r="3.4" fill="#e50000"/>
<circle cx="425.43" cy="337.50" r="3.4" fill="#d60000"/>
<circle cx="425.44" cy="337.50" r="3.4" fill="#c80000"/>
<circle cx="425.46" cy="337.50" r="3.4" fill="#b90000"/>
<circle cx="425.48" cy="337.50" r="3.4" fill="#ab0000"/>
<circle cx="425.50" cy="337.50" r="3.4" fill="#9c0000"/>
<circle cx="425.52" cy="337.50" r="3.4" fill="#8e0000"/>
<circle cx="425.53" cy="337.50" r="3.4" fill="#800000"/>
<circle cx="425.55" cy="337.50" r="3.4" fill="#800000"/>
<circle cx="425.57" cy="337.50" r="3.4" fill="#800000"/>
<circle cx="425.59" cy="337.50" r="3.4" fill="#800000"/>
<path d="M405.00,335.72 L404.12,338.42 L401.29,338.42 L403.58,340.08 L402.71,342.78 L405.00,341.11 L407.29,342.78 L406.42,340.08 L408.71,338.42 L405.88,338.42Z" fill="#000080"/>
<path d="M405.47,335.40 L404.60,338.09 L401.77,338.09 L404.06,339.76 L403.18,342.45 L405.47,340.79 L407.77,342.45 L406.89,339.76 L409.18,338.09 L406.35,338.09Z" fill="#000080"/>
<path d="M406.25,334.86 L405.38,337.56 L402.54,337.56 L404.84,339.22 L403.96,341.92 L406.25,340.25 L408.54,341.92 L407.67,339.22 L409.96,337.56 L407.13,337.56Z" fill="#000080"/>
<path d="M407.21,334.21 L406.33,336.90 L403.50,336.90 L405.79,338.57 L404.92,341.26 L407.21,339.60 L409.50,341.26 L408.63,338.57 L410.92,336.90 L408.08,336.90Z" fill="#000080"/>
<path d="M408.30,333.46 L407.43,336.15 L404.60,336.15 L406.89,337.82 L406.01,340.51 L408.30,338.85 L410.60,340.51 L409.72,337.82 L412.01,336.15 L409.18,336.15Z" fill="#00008e"/>
<path d="M409.52,332.63 L408.64,335.32 L405.81,335.32 L408.10,336.99 L407.22,339.69 L409.52,338.02 L411.81,339.69 L410.93,336.99 L413.23,335.32 L410.39,335.32Z" fill="#00009c"/>
<path d="M410.83,331.73 L409.95,334.43 L407.12,334.43 L409.41,336.09 L408.54,338.79 L410.83,337.12 L413.12,338.79 L412.25,336.09 L414.54,334.43 L411.70,334.43Z" fill="#0000ab"/>
<path d="M412.23,330.54 L411.36,333.24 L408.52,333.24 L410.82,334.90 L409.94,337.60 L412.23,335.93 L414.53,337.60 L413.65,334.90 L415.94,333.24 L413.11,333.24Z" fill="#0000b9"/>
<path d="M413.72,328.71 L412.84,331.40 L410.01,331.40 L412.30,333.07 L411.43,335.76 L413.72,334.10 L416.01,335.76 L415.14,333.07 L417.43,331.40 L414.60,331.40Z" fill="#0000c8"/>
<path d="M415.28,326.78 L414.41,329.47 L411.57,329.47 L413.87,331.14 L412.99,333.84 L415.28,332.17 L417.58,333.84 L416.70,331.14 L418.99,329.47 L416.16,329.47Z" fill="#0000d6"/>
<path d="M416.92,324.76 L416.04,327.46 L413.21,327.46 L415.50,329.12 L414.63,331.82 L416.92,330.15 L419.21,331.82 L418.33,329.12 L420.63,327.46 L417.79,327.46Z" fill="#0000e5"/>
<path d="M418.62,322.23 L417.74,324.92 L414.91,324.92 L417.20,326.59 L416.33,329.28 L418.62,327.62 L420.91,329.28 L420.04,326.59 L422.33,324.92 L419.49,324.92Z" fill="#0000f3"/>
<path d="M420.38,318.78 L419.51,321.47 L416.67,321.47 L418.97,323.14 L418.09,325.83 L420.38,324.16 L422.68,325.83 L421.80,323.14 L424.09,321.47 L421.26,321.47Z" fill="#0000ff"/>
<path d="M422.21,315.21 L421.33,317.90 L418.50,317.90 L420.79,319.57 L419.92,322.26 L422.21,320.60 L424.50,322.26 L423.62,319.57 L425.92,317.90 L423.08,317.90Z" fill="#0000ff"/>
<path d="M424.09,311.53 L423.21,314.22 L420.38,314.22 L422.67,315.89 L421.80,318.58 L424.09,316.92 L426.38,318.58 L425.51,315.89 L427.80,314.22 L424.96,314.22Z" fill="#000dff"/>
<path d="M426.02,306.80 L425.15,309.50 L422.32,309.50 L424.61,311.16 L423.73,313.86 L426.02,312.19 L428.32,313.86 L427.44,311.16 L429.73,309.50 L426.90,309.50Z" fill="#0019ff"/>
<path d="M428.01,301.83 L427.14,304.53 L424.30,304.53 L426.60,306.19 L425.72,308.89 L428.01,307.22 L430.31,308.89 L429.43,306.19 L431.72,304.53 L428.89,304.53Z" fill="#0026ff"/>
<path d="M430.05,296.07 L429.18,298.77 L426.34,298.77 L428.63,300.43 L427.76,303.13 L430.05,301.46 L432.34,303.13 L431.47,300.43 L433.76,298.77 L430.93,298.77Z" fill="#0033ff"/>
<path d="M432.14,288.99 L431.26,291.69 L428.43,291.69 L430.72,293.35 L429.85,296.05 L432.14,294.38 L434.43,296.05 L433.56,293.35 L435.85,291.69 L433.01,291.69Z" fill="#0040ff"/>
<path d="M434.27,281.17 L433.40,283.86 L430.56,283.86 L432.86,285.53 L431.98,288.22 L434.27,286.56 L436.56,288.22 L435.69,285.53 L437.98,283.86 L435.15,283.86Z" fill="#004dff"/>
<path d="M436.45,272.78 L435.58,275.48 L432.74,275.48 L435.03,277.14 L434.16,279.84 L436.45,278.17 L438.74,279.84 L437.87,277.14 L440.16,275.48 L437.33,275.48Z" fill="#0059ff"/>
<path d="M438.68,264.22 L437.80,266.92 L434.97,266.92 L437.26,268.58 L436.38,271.28 L438.68,269.61 L440.97,271.28 L440.09,268.58 L442.38,266.92 L439.55,266.92Z" fill="#0066ff"/>
<path d="M440.94,255.50 L440.07,258.19 L437.23,258.19 L439.52,259.86 L438.65,262.55 L440.94,260.89 L443.23,262.55 L442.36,259.86 L444.65,258.19 L441.82,258.19Z" fill="#0073ff"/>
<path d="M443.25,247.47 L442.37,250.16 L439.54,250.16 L441.83,251.83 L440.96,254.52 L443.25,252.86 L445.54,254.52 L444.67,251.83 L446.96,250.16 L444.12,250.16Z" fill="#0080ff"/>
<path d="M445.60,239.40 L444.72,242.09 L441.89,242.09 L444.18,243.76 L443.30,246.45 L445.60,244.79 L447.89,246.45 L447.01,243.76 L449.31,242.09 L446.47,242.09Z" fill="#008cff"/>
<path d="M447.99,231.21 L447.11,233.91 L444.28,233.91 L446.57,235.57 L445.69,238.27 L447.99,236.60 L450.28,238.27 L449.40,235.57 L451.69,233.91 L448.86,233.91Z" fill="#0099ff"/>
<path d="M450.41,223.09 L449.54,225.78 L446.70,225.78 L448.99,227.45 L448.12,230.14 L450.41,228.48 L452.70,230.14 L451.83,227.45 L454.12,225.78 L451.29,225.78Z" fill="#00a6ff"/>
<path d="M452.88,214.84 L452.00,217.53 L449.17,217.53 L451.46,219.20 L450.58,221.89 L452.88,220.23 L455.17,221.89 L454.29,219.20 L456.58,217.53 L453.75,217.53Z" fill="#00b2ff"/>
<path d="M455.38,206.46 L454.50,209.16 L451.67,209.16 L453.96,210.82 L453.08,213.52 L455.38,211.85 L457.67,213.52 L456.79,210.82 L459.09,209.16 L456.25,209.16Z" fill="#00bfff"/>
<path d="M457.91,197.84 L457.04,200.54 L454.20,200.54 L456.50,202.20 L455.62,204.90 L457.91,203.23 L460.20,204.90 L459.33,202.20 L461.62,200.54 L458.79,200.54Z" fill="#00ccff"/>
<path d="M460.48,189.10 L459.61,191.79 L456.78,191.79 L459.07,193.46 L458.19,196.15 L460.48,194.49 L462.78,196.15 L461.90,193.46 L464.19,191.79 L461.36,191.79Z" fill="#00d9ff"/>
<path d="M463.09,180.24 L462.22,182.94 L459.38,182.94 L461.67,184.60 L460.80,187.30 L463.09,185.63 L465.38,187.30 L464.51,184.60 L466.80,182.94 L463.97,182.94Z" fill="#00e5f7"/>
<path d="M465.73,171.27 L464.86,173.96 L462.02,173.96 L464.31,175.63 L463.44,178.32 L465.73,176.66 L468.02,178.32 L467.15,175.63 L469.44,173.96 L466.61,173.96Z" fill="#0af2ec"/>
<path d="M468.40,162.18 L467.53,164.88 L464.70,164.88 L466.99,166.54 L466.11,169.24 L468.40,167.57 L470.70,169.24 L469.82,166.54 L472.11,164.88 L469.28,164.88Z" fill="#15ffe2"/>
<path d="M469.09,161.33 L468.22,164.03 L465.38,164.03 L467.67,165.69 L466.80,168.39 L469.09,166.72 L471.38,168.39 L470.51,165.69 L472.80,164.03 L469.97,164.03Z" fill="#23ffd4"/>
<path d="M469.78,160.49 L468.90,163.18 L466.07,163.18 L468.36,164.85 L467.48,167.54 L469.78,165.88 L472.07,167.54 L471.19,164.85 L473.49,163.18 L470.65,163.18Z" fill="#31ffc6"/>
<path d="M470.46,159.64 L469.59,162.33 L466.75,162.33 L469.05,164.00 L468.17,166.69 L470.46,165.03 L472.76,166.69 L471.88,164.00 L474.17,162.33 L471.34,162.33Z" fill="#3fffb8"/>
<path d="M471.15,158.79 L470.27,161.48 L467.44,161.48 L469.73,163.15 L468.86,165.84 L471.15,164.18 L473.44,165.84 L472.57,163.15 L474.86,161.48 L472.03,161.48Z" fill="#4dffaa"/>
<path d="M471.84,157.94 L470.96,160.63 L468.13,160.63 L470.42,162.30 L469.54,164.99 L471.84,163.33 L474.13,164.99 L473.25,162.30 L475.54,160.63 L472.71,160.63Z" fill="#5bff9c"/>
<path d="M472.52,157.09 L471.65,159.79 L468.81,159.79 L471.11,161.45 L470.23,164.15 L472.52,162.48 L474.81,164.15 L473.94,161.45 L476.23,159.79 L473.40,159.79Z" fill="#69ff8d"/>
<path d="M473.46,159.85 L472.58,162.54 L469.75,162.54 L472.04,164.21 L471.17,166.90 L473.46,165.24 L475.75,166.90 L474.88,164.21 L477.17,162.54 L474.34,162.54Z" fill="#78ff7f"/>
<path d="M474.40,162.61 L473.52,165.30 L470.69,165.30 L472.98,166.97 L472.11,169.66 L474.40,168.00 L476.69,169.66 L475.82,166.97 L478.11,165.30 L475.27,165.30Z" fill="#86ff71"/>
<path d="M475.34,165.37 L474.46,168.06 L471.63,168.06 L473.92,169.73 L473.05,172.42 L475.34,170.75 L477.63,172.42 L476.75,169.73 L479.05,168.06 L476.21,168.06Z" fill="#90ff67"/>
<path d="M476.28,168.12 L475.40,170.82 L472.57,170.82 L474.86,172.48 L473.98,175.18 L476.28,173.51 L478.57,175.18 L477.69,172.48 L479.99,170.82 L477.15,170.82Z" fill="#9aff5d"/>
<path d="M477.53,171.94 L476.65,174.64 L473.82,174.64 L476.11,176.30 L475.24,179.00 L477.53,177.33 L479.82,179.00 L478.95,176.30 L481.24,174.64 L478.40,174.64Z" fill="#a5ff52"/>
<path d="M478.78,175.76 L477.90,178.46 L475.07,178.46 L477.36,180.12 L476.49,182.82 L478.78,181.15 L481.07,182.82 L480.20,180.12 L482.49,178.46 L479.66,178.46Z" fill="#afff48"/>
<path d="M480.69,183.40 L479.81,186.09 L476.98,186.09 L479.27,187.76 L478.40,190.45 L480.69,188.79 L482.98,190.45 L482.11,187.76 L484.40,186.09 L481.57,186.09Z" fill="#b9ff3e"/>
<path d="M481.91,189.76 L481.03,192.46 L478.20,192.46 L480.49,194.12 L479.62,196.82 L481.91,195.15 L484.20,196.82 L483.33,194.12 L485.62,192.46 L482.78,192.46Z" fill="#c3ff33"/>
<path d="M483.72,202.07 L482.85,204.76 L480.01,204.76 L482.30,206.43 L481.43,209.12 L483.72,207.46 L486.01,209.12 L485.14,206.43 L487.43,204.76 L484.60,204.76Z" fill="#ceff29"/>
<path d="M485.04,209.70 L484.16,212.40 L481.33,212.40 L483.62,214.06 L482.75,216.76 L485.04,215.09 L487.33,216.76 L486.45,214.06 L488.75,212.40 L485.91,212.40Z" fill="#d8ff1f"/>
<path d="M485.57,220.74 L484.69,223.43 L481.86,223.43 L484.15,225.10 L483.27,227.79 L485.57,226.13 L487.86,227.79 L486.98,225.10 L489.27,223.43 L486.44,223.43Z" fill="#e2ff15"/>
<path d="M486.26,233.47 L485.38,236.16 L482.55,236.16 L484.84,237.83 L483.96,240.52 L486.26,238.85 L488.55,240.52 L487.67,237.83 L489.97,236.16 L487.13,236.16Z" fill="#ecff0a"/>
<path d="M486.75,248.32 L485.88,251.01 L483.04,251.01 L485.33,252.68 L484.46,255.37 L486.75,253.71 L489.04,255.37 L488.17,252.68 L490.46,251.01 L487.63,251.01Z" fill="#f7f600"/>
<path d="M487.34,259.77 L486.47,262.47 L483.63,262.47 L485.93,264.13 L485.05,266.83 L487.34,265.16 L489.64,266.83 L488.76,264.13 L491.05,262.47 L488.22,262.47Z" fill="#ffea00"/>
<path d="M488.17,275.47 L487.29,278.17 L484.46,278.17 L486.75,279.83 L485.87,282.53 L488.17,280.86 L490.46,282.53 L489.58,279.83 L491.88,278.17 L489.04,278.17Z" fill="#ffde00"/>
<path d="M488.76,285.65 L487.88,288.35 L485.05,288.35 L487.34,290.01 L486.47,292.71 L488.76,291.04 L491.05,292.71 L490.18,290.01 L492.47,288.35 L489.64,288.35Z" fill="#ffd200"/>
<path d="M489.65,298.38 L488.77,301.08 L485.94,301.08 L488.23,302.74 L487.36,305.44 L489.65,303.77 L491.94,305.44 L491.07,302.74 L493.36,301.08 L490.52,301.08Z" fill="#ffc600"/>
<path d="M490.18,306.87 L489.30,309.56 L486.47,309.56 L488.76,311.23 L487.88,313.92 L490.18,312.26 L492.47,313.92 L491.59,311.23 L493.89,309.56 L491.05,309.56Z" fill="#ffbb00"/>
<path d="M490.77,317.90 L489.89,320.60 L487.06,320.60 L489.35,322.26 L488.48,324.96 L490.77,323.29 L493.06,324.96 L492.19,322.26 L494.48,320.60 L491.64,320.60Z" fill="#ffaf00"/>
<path d="M491.21,321.51 L490.34,324.20 L487.50,324.20 L489.80,325.87 L488.92,328.56 L491.21,326.90 L493.51,328.56 L492.63,325.87 L494.92,324.20 L492.09,324.20Z" fill="#ffa300"/>
<path d="M491.66,325.11 L490.78,327.81 L487.95,327.81 L490.24,329.47 L489.37,332.17 L491.66,330.50 L493.95,332.17 L493.08,329.47 L495.37,327.81 L492.53,327.81Z" fill="#ff9700"/>
<path d="M492.28,331.05 L491.41,333.75 L488.58,333.75 L490.87,335.41 L489.99,338.11 L492.28,336.44 L494.58,338.11 L493.70,335.41 L495.99,333.75 L493.16,333.75Z" fill="#ff8b00"/>
<path d="M493.11,334.02 L492.23,336.72 L489.40,336.72 L491.69,338.38 L490.82,341.08 L493.11,339.41 L495.40,341.08 L494.52,338.38 L496.82,336.72 L493.98,336.72Z" fill="#ff8000"/>
<path d="M493.52,334.13 L492.64,336.83 L489.81,336.83 L492.10,338.49 L491.23,341.19 L493.52,339.52 L495.81,341.19 L494.94,338.49 L497.23,336.83 L494.40,336.83Z" fill="#ff7400"/>
<path d="M493.93,334.24 L493.06,336.93 L490.22,336.93 L492.51,338.60 L491.64,341.29 L493.93,339.63 L496.22,341.29 L495.35,338.60 L497.64,336.93 L494.81,336.93Z" fill="#ff6800"/>
<path d="M494.34,334.34 L493.47,337.04 L490.63,337.04 L492.93,338.70 L492.05,341.40 L494.34,339.73 L496.64,341.40 L495.76,338.70 L498.05,337.04 L495.22,337.04Z" fill="#ff5c00"/>
<path d="M494.75,334.45 L493.88,337.14 L491.05,337.14 L493.34,338.81 L492.46,341.50 L494.75,339.84 L497.05,341.50 L496.17,338.81 L498.46,337.14 L495.63,337.14Z" fill="#ff5000"/>
<path d="M494.98,334.45 L494.11,337.14 L491.27,337.14 L493.56,338.81 L492.69,341.50 L494.98,339.84 L497.27,341.50 L496.40,338.81 L498.69,337.14 L495.86,337.14Z" fill="#ff4400"/>
<path d="M495.21,334.45 L494.33,337.14 L491.50,337.14 L493.79,338.81 L492.92,341.50 L495.21,339.84 L497.50,341.50 L496.62,338.81 L498.92,337.14 L496.08,337.14Z" fill="#ff3900"/>
<path d="M495.43,334.45 L494.56,337.14 L491.72,337.14 L494.02,338.81 L493.14,341.50 L495.43,339.84 L497.73,341.50 L496.85,338.81 L499.14,337.14 L496.31,337.14Z" fill="#ff2d00"/>
<path d="M495.66,334.45 L494.78,337.14 L491.95,337.14 L494.24,338.81 L493.37,341.50 L495.66,339.84 L497.95,341.50 L497.08,338.81 L499.37,337.14 L496.54,337.14Z" fill="#ff2100"/>
<path d="M495.89,334.45 L495.01,337.14 L492.18,337.14 L494.47,338.81 L493.59,341.50 L495.89,339.84 L498.18,341.50 L497.30,338.81 L499.60,337.14 L496.76,337.14Z" fill="#ff1500"/>
<path d="M496.11,334.45 L495.24,337.14 L492.40,337.14 L494.70,338.81 L493.82,341.50 L496.11,339.84 L498.41,341.50 L497.53,338.81 L499.82,337.14 L496.99,337.14Z" fill="#f30900"/>
<path d="M496.34,334.45 L495.46,337.14 L492.63,337.14 L494.92,338.81 L494.05,341.50 L496.34,339.84 L498.63,341.50 L497.76,338.81 L500.05,337.14 L497.22,337.14Z" fill="#e50000"/>
<path d="M496.57,334.45 L495.69,337.14 L492.86,337.14 L495.15,338.81 L494.27,341.50 L496.57,339.84 L498.86,341.50 L497.98,338.81 L500.28,337.14 L497.44,337.14Z" fill="#d60000"/>
<path d="M496.75,334.45 L495.87,337.14 L493.04,337.14 L495.33,338.81 L494.46,341.50 L496.75,339.84 L499.04,341.50 L498.17,338.81 L500.46,337.14 L497.62,337.14Z" fill="#c80000"/>
<path d="M496.93,334.45 L496.06,337.14 L493.22,337.14 L495.52,338.81 L494.64,341.50 L496.93,339.84 L499.22,341.50 L498.35,338.81 L500.64,337.14 L497.81,337.14Z" fill="#b90000"/>
<path d="M497.12,334.45 L496.24,337.14 L493.41,337.14 L495.70,338.81 L494.82,341.50 L497.12,339.84 L499.41,341.50 L498.53,338.81 L500.82,337.14 L497.99,337.14Z" fill="#ab0000"/>
<path d="M497.30,334.45 L496.42,337.14 L493.59,337.14 L495.88,338.81 L495.01,341.50 L497.30,339.84 L499.59,341.50 L498.71,338.81 L501.01,337.14 L498.17,337.14Z" fill="#9c0000"/>
<path d="M497.48,334.45 L496.61,337.14 L493.77,337.14 L496.06,338.81 L495.19,341.50 L497.48,339.84 L499.77,341.50 L498.90,338.81 L501.19,337.14 L498.36,337.14Z" fill="#8e0000"/>
<path d="M497.66,334.45 L496.79,337.14 L493.96,337.14 L496.25,338.81 L495.37,341.50 L497.66,339.84 L499.96,341.50 L499.08,338.81 L501.37,337.14 L498.54,337.14Z" fill="#800000"/>
<path d="M497.85,334.45 L496.97,337.14 L494.14,337.14 L496.43,338.81 L495.55,341.50 L497.85,339.84 L500.14,341.50 L499.26,338.81 L501.56,337.14 L498.72,337.14Z" fill="#800000"/>
<path d="M498.03,334.45 L497.15,337.14 L494.32,337.14 L496.61,338.81 L495.74,341.50 L498.03,339.84 L500.32,341.50 L499.45,338.81 L501.74,337.14 L498.91,337.14Z" fill="#800000"/>
<path d="M498.21,334.45 L497.34,337.14 L494.50,337.14 L496.80,338.81 L495.92,341.50 L498.21,339.84 L500.51,341.50 L499.63,338.81 L501.92,337.14 L499.09,337.14Z" fill="#800000"/>
<path d="M405.00,335.32 L409.30,339.62 L405.00,343.92 L400.70,339.62Z" fill="#000080"/>
<path d="M405.39,334.88 L409.69,339.18 L405.39,343.48 L401.09,339.18Z" fill="#000080"/>
<path d="M406.03,334.17 L410.33,338.47 L406.03,342.77 L401.73,338.47Z" fill="#000080"/>
<path d="M406.82,333.28 L411.12,337.58 L406.82,341.88 L402.52,337.58Z" fill="#000080"/>
<path d="M407.73,332.27 L412.03,336.57 L407.73,340.87 L403.43,336.57Z" fill="#00008e"/>
<path d="M408.73,331.16 L413.03,335.46 L408.73,339.76 L404.43,335.46Z" fill="#00009c"/>
<path d="M409.81,329.95 L414.11,334.25 L409.81,338.55 L405.51,334.25Z" fill="#0000ab"/>
<path d="M410.97,327.30 L415.27,331.60 L410.97,335.90 L406.67,331.60Z" fill="#0000b9"/>
<path d="M412.20,324.33 L416.50,328.63 L412.20,332.93 L407.90,328.63Z" fill="#0000c8"/>
<path d="M413.49,321.20 L417.79,325.50 L413.49,329.80 L409.19,325.50Z" fill="#0000d6"/>
<path d="M414.84,317.93 L419.14,322.23 L414.84,326.53 L410.54,322.23Z" fill="#0000e5"/>
<path d="M416.25,314.53 L420.55,318.83 L416.25,323.13 L411.95,318.83Z" fill="#0000f3"/>
<path d="M417.71,311.00 L422.01,315.30 L417.71,319.60 L413.41,315.30Z" fill="#0000ff"/>
<path d="M419.21,306.84 L423.51,311.14 L419.21,315.44 L414.91,311.14Z" fill="#0000ff"/>
<path d="M420.77,302.31 L425.07,306.61 L420.77,310.91 L416.47,306.61Z" fill="#000dff"/>
<path d="M422.37,297.65 L426.67,301.95 L422.37,306.25 L418.07,301.95Z" fill="#0019ff"/>
<path d="M424.01,292.86 L428.31,297.16 L424.01,301.46 L419.71,297.16Z" fill="#0026ff"/>
<path d="M425.69,287.88 L429.99,292.18 L425.69,296.48 L421.39,292.18Z" fill="#0033ff"/>
<path d="M427.42,282.31 L431.72,286.61 L427.42,290.91 L423.12,286.61Z" fill="#0040ff"/>
<path d="M429.18,276.61 L433.48,280.91 L429.18,285.21 L424.88,280.91Z" fill="#004dff"/>
<path d="M430.98,270.79 L435.28,275.09 L430.98,279.39 L426.68,275.09Z" fill="#0059ff"/>
<path d="M432.81,264.86 L437.11,269.16 L432.81,273.46 L428.51,269.16Z" fill="#0066ff"/>
<path d="M434.69,258.82 L438.99,263.12 L434.69,267.42 L430.39,263.12Z" fill="#0073ff"/>
<path d="M436.59,253.30 L440.89,257.60 L436.59,261.90 L432.29,257.60Z" fill="#0080ff"/>
<path d="M438.53,247.68 L442.83,251.98 L438.53,256.28 L434.23,251.98Z" fill="#008cff"/>
<path d="M440.50,241.96 L444.80,246.26 L440.50,250.56 L436.20,246.26Z" fill="#0099ff"/>
<path d="M442.51,236.56 L446.81,240.86 L442.51,245.16 L438.21,240.86Z" fill="#00a6ff"/>
<path d="M444.54,231.32 L448.84,235.62 L444.54,239.92 L440.24,235.62Z" fill="#00b2ff"/>
<path d="M446.61,226.00 L450.91,230.30 L446.61,234.60 L442.31,230.30Z" fill="#00bfff"/>
<path d="M448.70,220.45 L453.00,224.75 L448.70,229.05 L444.40,224.75Z" fill="#00ccff"/>
<path d="M450.83,214.62 L455.13,218.92 L450.83,223.22 L446.53,218.92Z" fill="#00d9ff"/>
<path d="M452.98,208.71 L457.28,213.01 L452.98,217.31 L448.68,213.01Z" fill="#00e5f7"/>
<path d="M455.16,203.56 L459.46,207.86 L455.16,212.16 L450.86,207.86Z" fill="#0af2ec"/>
<path d="M457.37,198.91 L461.67,203.21 L457.37,207.51 L453.07,203.21Z" fill="#15ffe2"/>
<path d="M459.17,195.22 L463.47,199.52 L459.17,203.82 L454.87,199.52Z" fill="#23ffd4"/>
<path d="M460.96,191.53 L465.26,195.83 L460.96,200.13 L456.66,195.83Z" fill="#31ffc6"/>
<path d="M462.76,187.83 L467.06,192.13 L462.76,196.43 L458.46,192.13Z" fill="#3fffb8"/>
<path d="M464.56,184.38 L468.86,188.68 L464.56,192.98 L460.26,188.68Z" fill="#4dffaa"/>
<path d="M466.35,182.30 L470.65,186.60 L466.35,190.90 L462.05,186.60Z" fill="#5bff9c"/>
<path d="M468.15,180.22 L472.45,184.52 L468.15,188.82 L463.85,184.52Z" fill="#69ff8d"/>
<path d="M469.95,178.13 L474.25,182.43 L469.95,186.73 L465.65,182.43Z" fill="#78ff7f"/>
<path d="M471.74,176.72 L476.04,181.02 L471.74,185.32 L467.44,181.02Z" fill="#86ff71"/>
<path d="M473.54,176.03 L477.84,180.33 L473.54,184.63 L469.24,180.33Z" fill="#90ff67"/>
<path d="M475.34,175.33 L479.64,179.63 L475.34,183.93 L471.04,179.63Z" fill="#9aff5d"/>
<path d="M477.13,174.64 L481.43,178.94 L477.13,183.24 L472.83,178.94Z" fill="#a5ff52"/>
<path d="M478.93,174.76 L483.23,179.06 L478.93,183.36 L474.63,179.06Z" fill="#afff48"/>
<path d="M480.72,175.07 L485.02,179.37 L480.72,183.67 L476.42,179.37Z" fill="#b9ff3e"/>
<path d="M482.52,175.57 L486.82,179.87 L482.52,184.17 L478.22,179.87Z" fill="#c3ff33"/>
<path d="M484.32,178.82 L488.62,183.12 L484.32,187.42 L480.02,183.12Z" fill="#ceff29"/>
<path d="M486.11,182.07 L490.41,186.37 L486.11,190.67 L481.81,186.37Z" fill="#d8ff1f"/>
<path d="M487.91,185.32 L492.21,189.62 L487.91,193.92 L483.61,189.62Z" fill="#e2ff15"/>
<path d="M530.43,333.20 L534.73,337.50 L530.43,341.80 L526.13,337.50Z" fill="#ff3900"/>
<path d="M532.00,333.20 L536.30,337.50 L532.00,341.80 L527.70,337.50Z" fill="#ff2d00"/>
<path d="M533.57,333.20 L537.87,337.50 L533.57,341.80 L529.27,337.50Z" fill="#ff2100"/>
<path d="M535.15,333.20 L539.45,337.50 L535.15,341.80 L530.85,337.50Z" fill="#ff1500"/>
<path d="M536.72,333.20 L541.02,337.50 L536.72,341.80 L532.42,337.50Z" fill="#f30900"/>
<path d="M538.30,333.20 L542.60,337.50 L538.30,341.80 L534.00,337.50Z" fill="#e50000"/>
<path d="M539.87,333.20 L544.17,337.50 L539.87,341.80 L535.57,337.50Z" fill="#d60000"/>
<path d="M541.45,333.20 L545.75,337.50 L541.45,341.80 L537.15,337.50Z" fill="#c80000"/>
<path d="M543.02,333.20 L547.32,337.50 L543.02,341.80 L538.72,337.50Z" fill="#b90000"/>
<path d="M544.60,333.20 L548.90,337.50 L544.60,341.80 L540.30,337.50Z" fill="#ab0000"/>
<path d="M546.17,333.20 L550.47,337.50 L546.17,341.80 L541.87,337.50Z" fill="#9c0000"/>
<path d="M547.74,333.20 L552.04,337.50 L547.74,341.80 L543.44,337.50Z" fill="#8e0000"/>
<path d="M549.32,333.20 L553.62,337.50 L549.32,341.80 L545.02,337.50Z" fill="#800000"/>
<path d="M550.89,333.20 L555.19,337.50 L550.89,341.80 L546.59,337.50Z" fill="#800000"/>
<path d="M552.47,333.20 L556.77,337.50 L552.47,341.80 L548.17,337.50Z" fill="#800000"/>
<path d="M554.04,333.20 L558.34,337.50 L554.04,341.80 L549.74,337.50Z" fill="#800000"/>
<path d="M490.00,189.30 L494.30,193.60 L490.00,197.90 L485.70,193.60Z" fill="#d8ff1f"/>
<path d="M493.00,197.70 L497.30,202.00 L493.00,206.30 L488.70,202.00Z" fill="#e3ff14"/>
<path d="M496.00,206.70 L500.30,211.00 L496.00,215.30 L491.70,211.00Z" fill="#eeff09"/>
<path d="M498.60,219.30 L502.90,223.60 L498.60,227.90 L494.30,223.60Z" fill="#f9f300"/>
<path d="M500.50,228.20 L504.80,232.50 L500.50,236.80 L496.20,232.50Z" fill="#ffe700"/>
<path d="M503.00,241.50 L507.30,245.80 L503.00,250.10 L498.70,245.80Z" fill="#ffda00"/>
<path d="M505.00,250.10 L509.30,254.40 L505.00,258.70 L500.70,254.40Z" fill="#ffce00"/>
<path d="M506.70,260.70 L511.00,265.00 L506.70,269.30 L502.40,265.00Z" fill="#ffc100"/>
<path d="M509.30,268.10 L513.60,272.40 L509.30,276.70 L505.00,272.40Z" fill="#ffb500"/>
<path d="M511.50,278.70 L515.80,283.00 L511.50,287.30 L507.20,283.00Z" fill="#ffa800"/>
<path d="M513.50,285.90 L517.80,290.20 L513.50,294.50 L509.20,290.20Z" fill="#ff9c00"/>
<path d="M515.30,294.50 L519.60,298.80 L515.30,303.10 L511.00,298.80Z" fill="#ff8f00"/>
<path d="M518.10,299.60 L522.40,303.90 L518.10,308.20 L513.80,303.90Z" fill="#ff8300"/>
<path d="M520.10,308.80 L524.40,313.10 L520.10,317.40 L515.80,313.10Z" fill="#ff7600"/>
<path d="M522.10,316.80 L526.40,321.10 L522.10,325.40 L517.80,321.10Z" fill="#ff6a00"/>
<path d="M524.40,322.50 L528.70,326.80 L524.40,331.10 L520.10,326.80Z" fill="#ff5d00"/>
<path d="M527.30,327.40 L531.60,331.70 L527.30,336.00 L523.00,331.70Z" fill="#ff5100"/>
<path d="M530.20,331.70 L534.50,336.00 L530.20,340.30 L525.90,336.00Z" fill="#ff4400"/>
<path d="M401.70,339.62H408.30M405.00,336.32V342.92" stroke="#000080" stroke-width="2.0" fill="none"/>
<path d="M403.85,337.22H410.45M407.15,333.92V340.52" stroke="#000080" stroke-width="2.0" fill="none"/>
<path d="M406.01,334.81H412.61M409.31,331.51V338.11" stroke="#000080" stroke-width="2.0" fill="none"/>
<path d="M408.16,330.42H414.76M411.46,327.12V333.72" stroke="#000080" stroke-width="2.0" fill="none"/>
<path d="M410.31,325.21H416.91M413.61,321.91V328.51" stroke="#00008e" stroke-width="2.0" fill="none"/>
<path d="M412.47,319.99H419.07M415.77,316.69V323.29" stroke="#00009c" stroke-width="2.0" fill="none"/>
<path d="M414.62,314.78H421.22M417.92,311.48V318.08" stroke="#0000ab" stroke-width="2.0" fill="none"/>
<path d="M416.78,308.63H423.38M420.08,305.33V311.93" stroke="#0000b9" stroke-width="2.0" fill="none"/>
<path d="M418.93,302.35H425.53M422.23,299.05V305.65" stroke="#0000c8" stroke-width="2.0" fill="none"/>
<path d="M421.08,296.07H427.68M424.38,292.77V299.37" stroke="#0000d6" stroke-width="2.0" fill="none"/>
<path d="M423.24,289.45H429.84M426.54,286.15V292.75" stroke="#0000e5" stroke-width="2.0" fill="none"/>
<path d="M425.39,282.49H431.99M428.69,279.19V285.79" stroke="#0000f3" stroke-width="2.0" fill="none"/>
<path d="M427.54,275.53H434.14M430.84,272.23V278.83" stroke="#0000ff" stroke-width="2.0" fill="none"/>
<path d="M429.70,268.57H436.30M433.00,265.27V271.87" stroke="#0000ff" stroke-width="2.0" fill="none"/>
<path d="M432.43,260.10H439.03M435.73,256.80V263.40" stroke="#000dff" stroke-width="2.0" fill="none"/>
<path d="M435.16,252.17H441.76M438.46,248.87V255.47" stroke="#0019ff" stroke-width="2.0" fill="none"/>
<path d="M437.90,244.25H444.50M441.20,240.95V247.55" stroke="#0026ff" stroke-width="2.0" fill="none"/>
<path d="M440.63,237.20H447.23M443.93,233.90V240.50" stroke="#0033ff" stroke-width="2.0" fill="none"/>
<path d="M443.37,230.15H449.97M446.67,226.85V233.45" stroke="#0040ff" stroke-width="2.0" fill="none"/>
<path d="M446.10,222.84H452.70M449.40,219.54V226.14" stroke="#004dff" stroke-width="2.0" fill="none"/>
<path d="M448.83,215.34H455.43M452.13,212.04V218.64" stroke="#0059ff" stroke-width="2.0" fill="none"/>
<path d="M451.57,208.48H458.17M454.87,205.18V211.78" stroke="#0066ff" stroke-width="2.0" fill="none"/>
<path d="M454.30,202.38H460.90M457.60,199.08V205.68" stroke="#0073ff" stroke-width="2.0" fill="none"/>
<path d="M457.03,192.57H463.63M460.33,189.27V195.87" stroke="#0080ff" stroke-width="2.0" fill="none"/>
<path d="M460.26,180.98H466.86M463.56,177.68V184.28" stroke="#008cff" stroke-width="2.0" fill="none"/>
<path d="M463.49,169.40H470.09M466.79,166.10V172.70" stroke="#0099ff" stroke-width="2.0" fill="none"/>
<path d="M466.72,157.81H473.32M470.02,154.51V161.11" stroke="#00a6ff" stroke-width="2.0" fill="none"/>
<path d="M469.92,145.75H476.52M473.22,142.45V149.05" stroke="#00b2ff" stroke-width="2.0" fill="none"/>
<path d="M473.12,136.38H479.72M476.42,133.08V139.68" stroke="#00bfff" stroke-width="2.0" fill="none"/>
<path d="M476.32,127.22H482.92M479.62,123.92V130.52" stroke="#00ccff" stroke-width="2.0" fill="none"/>
<path d="M479.52,117.83H486.12M482.82,114.53V121.13" stroke="#00d9ff" stroke-width="2.0" fill="none"/>
<path d="M482.72,109.92H489.32M486.02,106.62V113.22" stroke="#00e5f7" stroke-width="2.0" fill="none"/>
<path d="M485.92,102.22H492.52M489.22,98.92V105.52" stroke="#0af2ec" stroke-width="2.0" fill="none"/>
<path d="M489.12,95.22H495.72M492.42,91.92V98.52" stroke="#15ffe2" stroke-width="2.0" fill="none"/>
<path d="M492.73,88.62H499.33M496.03,85.32V91.92" stroke="#23ffd4" stroke-width="2.0" fill="none"/>
<path d="M496.35,79.79H502.95M499.65,76.49V83.09" stroke="#31ffc6" stroke-width="2.0" fill="none"/>
<path d="M499.97,73.24H506.57M503.27,69.94V76.54" stroke="#3fffb8" stroke-width="2.0" fill="none"/>
<path d="M503.59,66.71H510.19M506.89,63.41V70.01" stroke="#4dffaa" stroke-width="2.0" fill="none"/>
<path d="M507.21,61.31H513.81M510.51,58.01V64.61" stroke="#5bff9c" stroke-width="2.0" fill="none"/>
<path d="M510.83,56.65H517.43M514.13,53.35V59.95" stroke="#69ff8d" stroke-width="2.0" fill="none"/>
<path d="M514.45,53.22H521.05M517.75,49.92V56.52" stroke="#78ff7f" stroke-width="2.0" fill="none"/>
<path d="M518.07,50.10H524.67M521.37,46.80V53.40" stroke="#86ff71" stroke-width="2.0" fill="none"/>
<path d="M521.68,47.60H528.28M524.98,44.30V50.90" stroke="#90ff67" stroke-width="2.0" fill="none"/>
<path d="M525.30,46.07H531.90M528.60,42.77V49.37" stroke="#9aff5d" stroke-width="2.0" fill="none"/>
<path d="M528.92,44.86H535.52M532.22,41.56V48.16" stroke="#a5ff52" stroke-width="2.0" fill="none"/>
<path d="M532.54,43.88H539.14M535.84,40.58V47.18" stroke="#afff48" stroke-width="2.0" fill="none"/>
<path d="M536.16,44.09H542.76M539.46,40.79V47.39" stroke="#b9ff3e" stroke-width="2.0" fill="none"/>
<path d="M539.78,45.67H546.38M543.08,42.37V48.97" stroke="#c3ff33" stroke-width="2.0" fill="none"/>
<path d="M543.40,49.33H550.00M546.70,46.03V52.63" stroke="#ceff29" stroke-width="2.0" fill="none"/>
<path d="M546.42,52.26H553.02M549.72,48.96V55.56" stroke="#d8ff1f" stroke-width="2.0" fill="none"/>
<path d="M549.44,59.83H556.04M552.74,56.53V63.13" stroke="#e2ff15" stroke-width="2.0" fill="none"/>
<path d="M549.60,61.20H556.20M552.90,57.90V64.50" stroke="#f7f600" stroke-width="2.0" fill="none"/>
<path d="M553.60,68.70H560.20M556.90,65.40V72.00" stroke="#ffe800" stroke-width="2.0" fill="none"/>
<path d="M557.40,81.90H564.00M560.70,78.60V85.20" stroke="#ffda00" stroke-width="2.0" fill="none"/>
<path d="M560.90,89.10H567.50M564.20,85.80V92.40" stroke="#ffcd00" stroke-width="2.0" fill="none"/>
<path d="M564.60,103.10H571.20M567.90,99.80V106.40" stroke="#ffbf00" stroke-width="2.0" fill="none"/>
<path d="M568.30,111.00H574.90M571.60,107.70V114.30" stroke="#ffb200" stroke-width="2.0" fill="none"/>
<path d="M571.60,122.80H578.20M574.90,119.50V126.10" stroke="#ffa400" stroke-width="2.0" fill="none"/>
<path d="M575.50,128.80H582.10M578.80,125.50V132.10" stroke="#ff9700" stroke-width="2.0" fill="none"/>
<path d="M579.50,141.90H586.10M582.80,138.60V145.20" stroke="#ff8900" stroke-width="2.0" fill="none"/>
<path d="M582.70,148.70H589.30M586.00,145.40V152.00" stroke="#ff7c00" stroke-width="2.0" fill="none"/>
<path d="M586.70,159.10H593.30M590.00,155.80V162.40" stroke="#ff6e00" stroke-width="2.0" fill="none"/>
<path d="M589.80,163.90H596.40M593.10,160.60V167.20" stroke="#ff6000" stroke-width="2.0" fill="none"/>
<path d="M593.80,175.10H600.40M597.10,171.80V178.40" stroke="#ff5300" stroke-width="2.0" fill="none"/>
<path d="M597.00,181.90H603.60M600.30,178.60V185.20" stroke="#ff4500" stroke-width="2.0" fill="none"/>
<path d="M601.80,191.00H608.40M605.10,187.70V194.30" stroke="#ff3800" stroke-width="2.0" fill="none"/>
<path d="M604.60,195.00H611.20M607.90,191.70V198.30" stroke="#ff2a00" stroke-width="2.0" fill="none"/>
<path d="M608.60,204.60H615.20M611.90,201.30V207.90" stroke="#ff1d00" stroke-width="2.0" fill="none"/>
<path d="M611.40,209.80H618.00M614.70,206.50V213.10" stroke="#fa0f00" stroke-width="2.0" fill="none"/>
<path d="M615.40,217.80H622.00M618.70,214.50V221.10" stroke="#ea0200" stroke-width="2.0" fill="none"/>
<path d="M618.60,221.80H625.20M621.90,218.50V225.10" stroke="#d90000" stroke-width="2.0" fill="none"/>
<path d="M622.60,229.70H629.20M625.90,226.40V233.00" stroke="#c80000" stroke-width="2.0" fill="none"/>
<path d="M625.80,234.90H632.40M629.10,231.60V238.20" stroke="#b80000" stroke-width="2.0" fill="none"/>
<path d="M629.70,241.70H636.30M633.00,238.40V245.00" stroke="#a70000" stroke-width="2.0" fill="none"/>
<path d="M632.50,245.70H639.10M635.80,242.40V249.00" stroke="#970000" stroke-width="2.0" fill="none"/>
<path d="M637.70,253.70H644.30M641.00,250.40V257.00" stroke="#860000" stroke-width="2.0" fill="none"/>
<path d="M640.50,257.70H647.10M643.80,254.40V261.00" stroke="#800000" stroke-width="2.0" fill="none"/>
<path d="M645.70,263.70H652.30M649.00,260.40V267.00" stroke="#800000" stroke-width="2.0" fill="none"/>
<path d="M648.50,266.80H655.10M651.80,263.50V270.10" stroke="#800000" stroke-width="2.0" fill="none"/>
</g>
<circle cx="420.70" cy="296.70" r="4.3" fill="#000"/>
<path d="M457.50,197.50 L463.20,203.20 L457.50,208.90 L451.80,203.20Z" fill="#000"/>
<path d="M468.50,160.80 L467.29,164.53 L463.36,164.53 L466.54,166.84 L465.33,170.57 L468.50,168.26 L471.67,170.57 L470.46,166.84 L473.64,164.53 L469.71,164.53Z" fill="#000" stroke="#000" stroke-width="1" stroke-linejoin="miter"/>
<path d="M487.40,95.30H497.40M492.40,90.30V100.30" stroke="#000" stroke-width="2.0" fill="none"/>
<text x="426.9" y="291.5" font-size="9.2" text-anchor="end">2050</text>
<text x="462.0" y="169.4" font-size="9.2" text-anchor="end">2050</text>
<text x="449.0" y="207.4" font-size="9.2" text-anchor="end">2050</text>
<text x="484.9" y="99.3" font-size="9.2" text-anchor="end">2050</text>
<text x="425.1" y="349.5" font-size="9.2" text-anchor="middle">2069</text>
<text x="499.2" y="349.5" font-size="9.2" text-anchor="middle">2077</text>
<text x="526.7" y="349.5" font-size="9.2" text-anchor="middle">2083</text>
<text x="593.6" y="61.3" font-size="12.4" fill="#1c1c8e">2020</text>
<text x="593.6" y="82.4" font-size="12.4" fill="#a9d6e8">2040</text>
<text x="593.6" y="103.5" font-size="12.4" fill="#efe4a0">2060</text>
<text x="593.6" y="124.6" font-size="12.4" fill="#ffa11c">2080</text>
<text x="593.6" y="145.7" font-size="12.4" fill="#a52a2a">2100</text>
<path d="M62.0,27.5 H325.5 V354.5 H62.0 Z" fill="none" stroke="#000" stroke-width="1"/>
<path d="M405.0,27.5 H668.5 V354.5 H405.0 Z" fill="none" stroke="#000" stroke-width="1"/>
<line x1="62.00" y1="354.5" x2="62.00" y2="358.8" stroke="#000" stroke-width="1"/>
<text x="62.00" y="375.3" font-size="14.6" text-anchor="middle">0</text>
<line x1="405.00" y1="354.5" x2="405.00" y2="358.8" stroke="#000" stroke-width="1"/>
<text x="405.00" y="375.3" font-size="14.6" text-anchor="middle">0</text>
<line x1="127.88" y1="354.5" x2="127.88" y2="358.8" stroke="#000" stroke-width="1"/>
<text x="127.88" y="375.3" font-size="14.6" text-anchor="middle">2000</text>
<line x1="470.88" y1="354.5" x2="470.88" y2="358.8" stroke="#000" stroke-width="1"/>
<text x="470.88" y="375.3" font-size="14.6" text-anchor="middle">2000</text>
<line x1="193.75" y1="354.5" x2="193.75" y2="358.8" stroke="#000" stroke-width="1"/>
<text x="193.75" y="375.3" font-size="14.6" text-anchor="middle">4000</text>
<line x1="536.75" y1="354.5" x2="536.75" y2="358.8" stroke="#000" stroke-width="1"/>
<text x="536.75" y="375.3" font-size="14.6" text-anchor="middle">4000</text>
<line x1="259.62" y1="354.5" x2="259.62" y2="358.8" stroke="#000" stroke-width="1"/>
<text x="259.62" y="375.3" font-size="14.6" text-anchor="middle">6000</text>
<line x1="602.62" y1="354.5" x2="602.62" y2="358.8" stroke="#000" stroke-width="1"/>
<text x="602.62" y="375.3" font-size="14.6" text-anchor="middle">6000</text>
<line x1="325.50" y1="354.5" x2="325.50" y2="358.8" stroke="#000" stroke-width="1"/>
<text x="325.50" y="375.3" font-size="14.6" text-anchor="middle">8000</text>
<line x1="668.50" y1="354.5" x2="668.50" y2="358.8" stroke="#000" stroke-width="1"/>
<text x="668.50" y="375.3" font-size="14.6" text-anchor="middle">8000</text>
<line x1="58.3" y1="44.50" x2="62.0" y2="44.50" stroke="#000" stroke-width="1"/>
<text x="51.4" y="49.50" font-size="14.6" text-anchor="end">0</text>
<line x1="58.3" y1="110.75" x2="62.0" y2="110.75" stroke="#000" stroke-width="1"/>
<text x="51.4" y="115.75" font-size="14.6" text-anchor="end">−10</text>
<line x1="58.3" y1="177.00" x2="62.0" y2="177.00" stroke="#000" stroke-width="1"/>
<text x="51.4" y="182.00" font-size="14.6" text-anchor="end">−20</text>
<line x1="58.3" y1="243.25" x2="62.0" y2="243.25" stroke="#000" stroke-width="1"/>
<text x="51.4" y="248.25" font-size="14.6" text-anchor="end">−30</text>
<line x1="58.3" y1="309.50" x2="62.0" y2="309.50" stroke="#000" stroke-width="1"/>
<text x="51.4" y="314.50" font-size="14.6" text-anchor="end">−40</text>
<line x1="401.1" y1="337.50" x2="405.0" y2="337.50" stroke="#000" stroke-width="1"/>
<text x="395.2" y="342.50" font-size="14.6" text-anchor="end">0</text>
<line x1="401.1" y1="295.07" x2="405.0" y2="295.07" stroke="#000" stroke-width="1"/>
<text x="395.2" y="300.07" font-size="14.6" text-anchor="end">1</text>
<line x1="401.1" y1="252.64" x2="405.0" y2="252.64" stroke="#000" stroke-width="1"/>
<text x="395.2" y="257.64" font-size="14.6" text-anchor="end">2</text>
<line x1="401.1" y1="210.21" x2="405.0" y2="210.21" stroke="#000" stroke-width="1"/>
<text x="395.2" y="215.21" font-size="14.6" text-anchor="end">3</text>
<line x1="401.1" y1="167.78" x2="405.0" y2="167.78" stroke="#000" stroke-width="1"/>
<text x="395.2" y="172.78" font-size="14.6" text-anchor="end">4</text>
<line x1="401.1" y1="125.35" x2="405.0" y2="125.35" stroke="#000" stroke-width="1"/>
<text x="395.2" y="130.35" font-size="14.6" text-anchor="end">5</text>
<line x1="401.1" y1="82.92" x2="405.0" y2="82.92" stroke="#000" stroke-width="1"/>
<text x="395.2" y="87.92" font-size="14.6" text-anchor="end">6</text>
<line x1="401.1" y1="40.49" x2="405.0" y2="40.49" stroke="#000" stroke-width="1"/>
<text x="395.2" y="45.49" font-size="14.6" text-anchor="end">7</text>
<text x="194.6" y="397.3" font-size="14.85" text-anchor="middle">Accumulated CFC-11 emissions (Gg)</text>
<text x="537.9" y="397.3" font-size="14.85" text-anchor="middle">Accumulated CFC-11 emissions (Gg)</text>
<text transform="translate(11.2,189.3) rotate(-90)" font-size="14.85" text-anchor="middle">dTCO [Sep 21–Oct 13] (DU)</text>
<text transform="translate(372.6,187.0) rotate(-90)" font-size="14.85" text-anchor="middle">dOMD [Sep 21–Oct 13] (million tonnes)</text>
<rect x="68.2" y="274.2" width="145.5" height="73.4" rx="2.5" fill="#fff" fill-opacity="0.8" stroke="#d2d2d2" stroke-width="1.25"/>
<circle cx="84.80" cy="285.20" r="3.9" fill="#000"/>
<path d="M84.50,296.60 L83.29,300.33 L79.36,300.33 L82.54,302.64 L81.33,306.37 L84.50,304.06 L87.67,306.37 L86.46,302.64 L89.64,300.33 L85.71,300.33Z" fill="#000" stroke="#000" stroke-width="1" stroke-linejoin="miter"/>
<path d="M84.50,315.00 L90.00,320.50 L84.50,326.00 L79.00,320.50Z" fill="#000"/>
<path d="M79.40,337.70H89.80M84.60,332.50V342.90" stroke="#000" stroke-width="2.0" fill="none"/>
<text x="99.5" y="289.20" font-size="12.5">R2000_CFC11_B</text>
<text x="99.5" y="306.65" font-size="12.5">R2000_CFC11_Ex</text>
<text x="99.5" y="324.10" font-size="12.5">R2000_CFC11_67</text>
<text x="99.5" y="341.55" font-size="12.5">R2000_CFC12_67</text>
<defs><clipPath id="ca"><rect x="62.0" y="27.5" width="263.5" height="327"/></clipPath><clipPath id="cb"><rect x="405.0" y="27.5" width="263.5" height="327"/></clipPath></defs>
</svg>
</body></html>
